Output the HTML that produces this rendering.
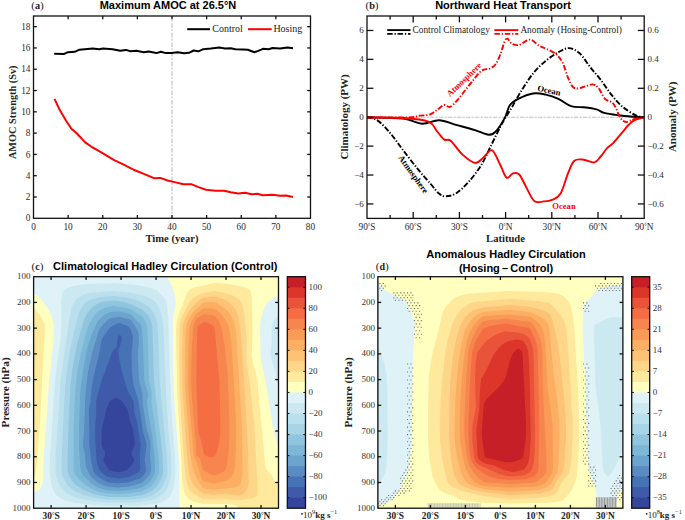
<!DOCTYPE html>
<html><head><meta charset="utf-8"><style>
html,body{margin:0;padding:0;background:#fff;width:685px;height:520px;overflow:hidden}
svg{display:block}
</style></head><body>
<svg width="685" height="520" viewBox="0 0 685 520">
<rect width="685" height="520" fill="#fff"/>
<clipPath id="clipc"><rect x="33.6" y="276.7" width="244.9" height="231.5"/></clipPath>
<g clip-path="url(#clipc)">
<rect x="33.6" y="276.7" width="244.9" height="231.5" fill="#36459c"/>
<path d="M32.1 274.7L280.1 274.7 280.1 510.2 31.6 510.2 31.6 274.7ZM115.8 397.7L112.1 399.4 109.6 401.4 106.1 409.7 101.8 429.2 101.6 444.2 102 446.7 104.4 450.7 105.2 453.2 105 455.2 103.2 459.2 104.1 462.2 109.1 469.9 112.7 471.2 118.1 472.2 123.5 471.2 127.6 469.8 133.6 462.1 134.3 460.2 134.1 458.7 131.9 455.7 131.3 453.7 132 451.2 134.5 446.2 134.8 443.7 133.2 429.7 130.3 422.2 127.6 409.7 122.1 401.2 118.8 398.7Z" fill="#3e5aa8" fill-rule="evenodd"/>
<path d="M32.1 274.7L280.1 274.7 280.1 510.2 31.6 510.2 31.6 274.7ZM119.6 335.2L118.6 335.7 117.8 337.2 116.4 347.7 113.1 350.2 111.6 353 105.9 369.7 102.1 378.7 96.5 399.2 96.1 402.2 96.3 411.2 95.1 429.2 95.5 443.7 96.7 460.7 97.4 464.7 98.9 468.7 101.4 472.2 107.6 477.1 118.1 478.4 128.8 477.2 138.1 472.5 139.6 471.3 140.2 468.7 139.7 454.2 140.8 445.2 137.3 423.2 134.3 411.7 133.6 401.2 128.3 391.7 126.2 386.7 121.4 369.2 118.9 357.7 118.5 350.7 121.1 342.2 121.8 338.2 121.1 335.8Z" fill="#4673b5" fill-rule="evenodd"/>
<path d="M32.1 274.7L280.1 274.7 280.1 510.2 31.6 510.2 31.6 274.7ZM118.5 323.2L113.1 325.4 109.6 327.8 101.6 339.6 99.2 353.7 93 379.2 91.2 391.7 90.5 401.7 89.2 407.2 88.9 411.2 89.4 444.7 91.2 460.7 93.3 470.7 95.1 473.7 98.1 476.8 104.6 480.8 108.6 482.5 118.1 483.3 127.6 482.5 130.6 481.8 140.1 478.3 144 474.7 145.4 472.2 146 470.2 144.7 459.2 146.5 445.2 146.1 442.2 142.8 431.2 139.9 410.2 137.8 398.2 134.1 386.7 132.8 380.2 131.8 367.7 131.5 354.7 132.9 338.7 132.7 335.7 130.6 329.5 129.1 327 126.9 325.7 120.6 323.2Z" fill="#5a8bc2" fill-rule="evenodd"/>
<path d="M32.1 274.7L280.1 274.7 280.1 510.2 31.6 510.2 31.6 274.7ZM116.2 317.2L111.1 318.1 108.1 319.4 104.7 322.7 100.1 328.4 98.3 332.2 91.8 353.7 87.8 373.2 85.5 392.2 84.1 430.2 83 444.7 83.4 448.7 85 454.2 85.4 462.2 86.2 466.7 88.4 472.2 91.5 477.2 97.6 482.4 102.6 484.9 108.1 486.7 118.1 487.4 129.1 486.6 140.9 483.2 145.7 479.2 149.2 475.2 150.8 471.7 151.1 468.2 150.1 454.7 150.6 446.2 150.3 441.7 146.8 429.7 142.7 403.2 142.5 393.2 139.8 383.7 139 378.7 137.8 356.2 138.9 340.7 138.5 333.2 137.6 330.7 133.6 323.7 130.6 319.8 128.6 318.9 120.1 316.9Z" fill="#6ba5cd" fill-rule="evenodd"/>
<path d="M32.1 274.7L280.1 274.7 280.1 510.2 31.6 510.2 31.6 274.7ZM112 311.7L108.1 312.8 104.1 315.1 99.3 319.2 97.1 321.9 91.7 334.2 87.7 346.2 85.8 353.7 81 384.2 80.2 392.7 79 430.7 79.2 449.7 80.1 466.7 81.1 471.7 83.6 475.7 90.9 483.2 96.3 486.7 100.6 488.4 108.6 490.4 118.1 490.8 128.1 490.3 138.1 488.5 141.6 487.5 146.8 484.2 151.1 479.7 153.9 475.2 155.1 471.2 154.7 457.7 152.3 436.7 147 403.2 147 400.7 148.3 395.7 148.3 393.7 145 383.7 144.3 379.7 142.7 337.2 141.5 326.2 140.1 323.5 137.1 321.1 132.5 315.7 130.1 314 119.6 311.6Z" fill="#7db7d8" fill-rule="evenodd"/>
<path d="M32.1 274.7L280.1 274.7 280.1 510.2 31.6 510.2 31.6 274.7ZM111 306.2L104.6 307.9 99.6 310.2 96.5 312.7 92.7 317.7 89.5 323.2 87 329.2 81.3 350.2 76.7 375.2 74.6 401.2 73.6 427.7 73.6 470.2 74.2 472.7 75.6 475.2 80.6 481 85.7 485.2 93.6 489.8 99.6 491.9 108.1 493.6 118.1 494.1 128.6 493.6 141.1 491.6 146.1 489.5 150.1 487 153 484.2 156 479.7 158.2 475.2 159.2 471.2 159.1 463.7 158.2 452.2 154.4 421.7 151.5 402.7 151.9 395.7 151.6 391.2 149 379.7 147.5 328.2 146.1 322.7 143 317.7 141.1 315.8 137.6 314.2 132.1 310.1 127.1 308.1 121.1 306.9 114.1 306Z" fill="#90c5df" fill-rule="evenodd"/>
<path d="M32.1 274.7L280.1 274.7 280.1 510.2 31.6 510.2 31.6 274.7ZM110.6 300.7L101.6 302.1 98.6 303.2 92.6 307.1 88.2 311.7 85.6 316 83.3 321.7 77.1 344 72.8 365.7 70.6 383.7 68.6 422.7 67.6 457.7 67.7 471.2 68.5 474.2 70.2 477.7 73.1 481.9 75.7 484.7 82.1 489 93.1 493.8 99.6 495.6 109.1 496.9 127.6 496.9 139.6 495.6 144.6 494.2 149.6 492.1 152.6 490.3 155.6 487.7 158.3 484.2 160.9 479.2 162.6 474.7 163.3 470.7 162.4 453.7 154.1 382.2 152.3 326.2 150.9 320.7 148.7 316.2 145.8 312.7 141.6 309.3 132.6 304.9 126.1 302.5 114.1 300.6Z" fill="#a7d4e6" fill-rule="evenodd"/>
<path d="M32.1 274.7L280.1 274.7 280.1 510.2 31.6 510.2 31.6 274.7ZM108.8 296.2L100.6 297 96.1 297.9 90.5 299.7 86.1 302.1 83.5 304.7 80.9 308.7 78.9 313.2 77.1 319.2 69.9 350.7 65.9 377.2 64.1 404.7 61.9 451.7 61.5 467.2 61.7 472.2 62.7 475.7 64.5 479.7 66.8 483.7 69.2 486.7 74.6 491 83.6 494.9 94.6 498 107.6 499.7 127.6 499.8 141.1 498.7 147.1 497.3 151.8 495.7 156 493.2 159.5 490.2 162.1 487 164.1 483.2 166.4 476.7 167.4 471.7 166.9 457.7 159.8 382.7 158.2 335.2 157.3 324.2 155.6 317.2 152.9 311.7 149 307.2 143.1 302.9 136.1 300 126.6 297.5 113.6 295.9Z" fill="#bbe0ed" fill-rule="evenodd"/>
<path d="M32.1 274.7L280.1 274.7 280.1 510.2 31.6 510.2 31.6 274.7ZM108 291.2L90.1 293.1 85.1 294.1 81.6 295.4 77.8 297.7 75.2 300.2 73.1 303.6 71.4 308.2 69.5 317.7 60.7 378.7 55.5 458.2 55.2 469.2 55.6 474 58.6 483.2 62.4 489.2 65.1 491.9 68.6 494.4 76.1 497.7 92.6 501.2 108.1 502.7 129.1 502.7 140.6 502 147.1 501.1 152.6 499.8 157.6 497.8 161.6 495.3 164.6 492.4 166.8 489.2 168.7 485.2 170.4 478.7 171.4 472.7 171.1 458.7 168.5 431.2 166.2 396.2 163.7 331.7 162.4 318.7 160.4 311.2 157.5 304.7 154.8 301.2 150.6 298.4 143.1 295.4 134.1 293.2 114.1 290.9Z" fill="#cce9f2" fill-rule="evenodd"/>
<path d="M32.1 274.7L280.1 274.7 280.1 314.3 278.1 315 276.1 317.2 273.4 321.2 272 324.7 271.5 328.2 271.9 338.7 270.5 353.7 271.3 359.2 276.2 374.2 278.6 387.9 279.1 389.7 280.1 391 280.1 510.2 31.6 510.2 31.6 274.7ZM109.1 283.2L85.1 283.9 74.3 285.7 69.2 287.2 65.6 288.9 63.4 291.2 62.1 294.2 61.2 301.7 61.5 325.2 61.1 334.2 55.2 378.2 49.9 457.2 49.6 471.7 51.2 483.7 53.7 491.2 55.5 494.2 57.5 496.2 60.3 498.2 64.1 500 73.6 502.8 92.1 505.1 108.6 506.1 139.6 505.7 154.1 504.1 159.6 502.7 164.1 500.9 167.6 498.7 170 496.2 172.1 492.4 173.6 487.7 175.4 474.2 175.2 458.2 172.5 427.7 171 404.2 168.3 318.7 166.9 304.2 165.7 300.2 163.1 296.5 157.1 290.5 154.1 288.9 146.6 286.7 135.6 284.7 114.1 283.1Z" fill="#dff2f7" fill-rule="evenodd"/>
<path d="M166.1 274.7L280.1 274.7 280.1 295.3 277.6 295.8 271 299.2 268.2 301.2 266.6 303.2 263.9 309.2 261.6 316.3 260.4 322.2 260 328.2 260.5 354.2 261 359.7 264.9 377.7 273.6 431.7 277.1 443 278.6 445.5 280.1 446.2 280.1 510.2 179.4 510.2 179.2 462.7 174.1 396.2 173 358.2 172.7 323.7 173.5 315.2 175.5 304.7 175.7 300.7 174.9 295.2 172.1 286.7 169.6 281.2 166 275.2 165.8 274.7ZM32.1 292.9L35.1 293.9 40.2 298.2 42.8 301.2 48.1 309.2 50.6 313.8 52.5 318.7 53.6 323.7 53.9 328.7 53.3 339.7 49.3 380.2 43.6 458.2 42.6 483.2 41.6 486.7 39.1 489.7 36.1 491.2 31.6 492 31.6 292.9Z" fill="#ffffbf" fill-rule="evenodd"/>
<path d="M213.1 283.2L216.1 282.9 226.6 283.8 241.1 286.3 245.7 287.7 248.6 289.1 250.1 290.6 251 292.7 251.8 297.2 252.1 304.2 252.4 337.7 251.8 356.2 252.8 362.2 256.5 375.7 257.5 381.7 265.1 464 266.6 470 271.6 475.1 275.1 482.1 277.1 483.6 280.1 484.2 280.1 510.2 238.3 510.2 238.4 508.2 237.6 506.7 235.6 505.4 232.1 504.4 225.6 503.9 213.6 504.2 202.1 503.7 193.1 501.2 189.1 499.2 186.1 496.1 184 491.2 182.3 480.7 180.8 449.2 177.3 395.7 176.2 344.2 176.1 327.7 176.5 322.7 178.8 313.7 182.9 304.2 185.9 295.2 188.6 290.5 190.6 289 195.1 287.2ZM32.1 307.4L33.6 307.8 35.6 309.5 41.4 317.2 44.1 323.2 44.9 329.2 39.8 425.2 36.9 463.2 36 471.2 35 475.7 33.6 478.3 31.6 479 31.6 307.4Z" fill="#fee99d" fill-rule="evenodd"/>
<path d="M214.1 291.1L218.1 291.5 228.1 293.9 233.2 295.7 237.6 298.2 239.9 300.2 241.6 302.7 244 311.7 246.5 335.7 246.6 354.7 247.1 364.5 249.5 380.2 254.5 425.7 256.5 468.7 257.6 481.7 257.4 493.2 257 495.7 254.6 497.5 249.6 498.8 240.1 499.9 225.1 499 213.1 499.5 202.6 498.7 194.1 494.3 191.1 491.7 188 486.7 186.1 479.7 184.3 463.2 179.6 392.7 179.2 360.7 179.6 324.7 180.7 319.7 182.8 314.7 189.6 302.5 192.2 299.2 196.1 296.2 201.1 293.8ZM32 321.2L33.6 322.3 34.7 325.7 34.9 338.2 34.1 392.5 33.1 402.7 32.6 404.5 31.6 405.5 31.6 321.2Z" fill="#fed689" fill-rule="evenodd"/>
<path d="M212.6 296.7L216.6 296.9 223.6 299.2 228.3 301.7 231.8 304.7 235 308.7 237 312.7 238.5 317.7 239.8 325.2 241.8 346.7 245.9 409.2 248.1 452.2 248.6 477.7 248.4 484.7 247.1 489.2 244.1 493.1 240.1 495.3 224.6 493.9 213.1 494.8 202.6 493.5 195.1 486.9 192.6 483.7 190.1 477 188.3 467.7 186.4 447.7 182.4 388.7 182.2 352.2 182.7 325.7 184.2 320.2 186.8 314.7 190.9 308.7 196.1 303.1 199.9 299.7 203.1 297.8Z" fill="#fdc275" fill-rule="evenodd"/>
<path d="M206.6 302.2L210.6 301.9 215.6 302.5 218.2 303.7 222.6 306.7 226.7 310.2 229.8 313.7 232.4 318.2 234.3 323.2 235.6 329.7 236.5 340.2 241.7 422.2 242.5 470.2 242 477.2 240.6 483.7 239.1 485.8 235.1 487.5 224.1 488.4 214.6 489.7 204.6 488.4 202.1 487.3 196.5 477.7 193.4 470.2 191.6 462 190 449.7 185.5 393.7 185.1 380.7 185.2 352.7 185.7 330.2 186.2 325.2 189.1 318 194.6 310.4 203.1 303Z" fill="#fcae62" fill-rule="evenodd"/>
<path d="M205.1 308.2L212.6 308.6 215.1 309.1 217.1 310.3 220.6 313.7 224.7 318.7 227.3 323.2 228.9 327.2 230.2 334.7 231.9 351.2 235.8 415.2 236.3 429.7 236.1 447.7 235 465.7 233.8 472.7 231.4 477.2 227.6 480.2 214.1 483.7 205.1 481.6 202.6 480.2 201.2 477.2 196.7 462.2 193.8 456.2 188.5 395.2 188 380.7 188.2 358.2 189.6 326.7 191.7 320.7 195.6 314.5 202.6 309.1Z" fill="#fa9a57" fill-rule="evenodd"/>
<path d="M204.6 314.2L210.6 314.8 215.1 316.2 217.9 319.7 220.6 325.2 222.4 331.7 225.2 348.7 227.5 374.7 229 408.2 229.5 431.2 229 446.2 227.2 463.2 226.1 468.3 224.7 470.7 219.1 473.7 214.1 475.4 210.8 474.2 203.6 470.2 202.5 468.2 200.1 458.8 196 454.7 196 442.7 194.6 431.2 191.8 395.2 191.2 381.7 191.3 366.7 191.9 348.7 193.2 327.2 194.5 322.7 196.6 318.8 202.1 315.2Z" fill="#f7854e" fill-rule="evenodd"/>
<path d="M205.1 321.7L207.1 322.2 212.1 324.9 213.6 326.3 214.6 328.7 219.3 379.7 220.3 417.7 220.1 436.7 218.7 444.7 216.1 454.2 214.1 456.5 211.1 457.5 209.1 457.2 206 455.7 204.6 454.7 203.6 453.2 201.3 441.7 198.6 432.9 198.1 425.9 196.3 380.7 197.3 329.2 197.6 327.1 198.6 325.6 202.7 322.7Z" fill="#f46d43" fill-rule="evenodd"/>
</g>
<clipPath id="clipd"><rect x="377.9" y="276.7" width="245.0" height="231.5"/></clipPath>
<g clip-path="url(#clipd)">
<rect x="377.9" y="276.7" width="245.0" height="231.5" fill="#36459c"/>
<path d="M376.4 274.7L624.9 274.7 624.9 510.2 375.9 510.2 375.9 274.7Z" fill="#3e5aa8" fill-rule="evenodd"/>
<path d="M376.4 274.7L624.9 274.7 624.9 510.2 375.9 510.2 375.9 274.7Z" fill="#4673b5" fill-rule="evenodd"/>
<path d="M376.4 274.7L624.9 274.7 624.9 510.2 375.9 510.2 375.9 274.7Z" fill="#5a8bc2" fill-rule="evenodd"/>
<path d="M376.4 274.7L624.9 274.7 624.9 510.2 375.9 510.2 375.9 274.7Z" fill="#6ba5cd" fill-rule="evenodd"/>
<path d="M376.4 274.7L624.9 274.7 624.9 510.2 375.9 510.2 375.9 274.7Z" fill="#7db7d8" fill-rule="evenodd"/>
<path d="M376.4 274.7L624.9 274.7 624.9 510.2 375.9 510.2 375.9 274.7Z" fill="#90c5df" fill-rule="evenodd"/>
<path d="M376.4 274.7L624.9 274.7 624.9 510.2 375.9 510.2 375.9 274.7Z" fill="#a7d4e6" fill-rule="evenodd"/>
<path d="M376.4 274.7L624.9 274.7 624.9 510.2 375.9 510.2 375.9 274.7Z" fill="#bbe0ed" fill-rule="evenodd"/>
<path d="M376.4 274.7L624.9 274.7 624.9 510.2 375.9 510.2 375.9 274.7Z" fill="#cce9f2" fill-rule="evenodd"/>
<path d="M376.4 274.7L624.9 274.7 624.9 317.6 612.9 317.1 609.4 317.4 595.8 324.2 594.2 326.2 593.8 329.2 595.4 384.2 600.7 427.2 603 469.7 603.9 472.2 606.2 475.2 607.9 476.5 608.9 476.1 613.4 470.2 621.9 451.9 623.4 450.3 624.9 450.1 624.9 510.2 375.9 510.2 375.9 485 377.4 484.8 378.4 484.1 382.1 478.7 384.8 473.7 386 469.2 387 457.2 387.8 431.7 387.3 389.7 386.3 373.2 384.2 363.2 380.6 353.2 378.4 349.3 377.4 348.5 375.9 348.3 375.9 274.7Z" fill="#dff2f7" fill-rule="evenodd"/>
<path d="M376.4 274.7L624.9 274.7 624.9 283.5 621.9 283.7 610.4 286 596.9 289.4 595.4 290.9 591.9 296.7 585.9 301.6 584.5 305.2 583.4 311.7 582.5 328.2 585.1 378.7 587 445.7 588.6 470.7 593.9 482.2 596.2 493.2 596.8 503.2 597.4 504.8 600.9 505.9 608.9 506.7 612.4 506.2 615 505.2 616.3 503.2 617.1 495.2 618.1 492.2 621.9 487.5 623.4 486.6 624.9 486.4 624.9 510.2 479.7 510.2 462.9 509.2 458.9 507.6 455.9 506.9 431.4 506.7 426.4 507.7 425 508.7 423.9 510.2 375.9 510.2 375.9 506.4 378.4 506.1 381.4 504.4 388.4 502 391.4 500.1 393.9 497.7 399.5 490.2 403 481.7 407 474.7 408.7 470.2 410.1 459.2 411.6 438.2 412.6 368.7 413.4 349.7 415 328.7 414.7 324.2 413.8 319.7 407.2 302.2 403.1 299.2 389.4 292.7 384.5 289.7 379.3 282.2 377.9 281.2 375.9 280.9 375.9 274.7Z" fill="#ffffbf" fill-rule="evenodd"/>
<path d="M504.9 291.2L510.9 290.9 547.4 292.2 558.9 293.7 563.4 296.2 567.7 300.2 569.6 303.2 571.4 308.7 573.2 317.7 574.4 329.7 578.3 394.7 579.2 431.2 578.2 461.2 576.7 477.2 573.2 487.2 570.6 491.7 564.6 498.7 562.4 500.4 559.9 501.4 553.9 502.2 543.4 502.8 509.9 503.6 480.4 502.5 466.9 501 459.4 499 453.4 495.7 444.9 493 440.9 490.9 437.9 487.4 433.4 478.6 432.2 475.2 429.5 459.7 427.9 438.2 428.1 403.7 428.9 378.2 430.2 366.7 433 350.7 438.9 329.7 441.3 317.2 442.9 311.7 445.9 306.3 451.9 299.9 454.9 297.7 458.9 295.9 464.4 294.6 471.9 293.4Z" fill="#fee99d" fill-rule="evenodd"/>
<path d="M504.9 299.2L510.4 298.8 519.4 299.5 539.9 301.3 548.4 302.7 552.8 305.7 559.3 313.2 563.3 319.7 565.7 326.2 567.7 343.7 572.4 418.2 572.6 437.2 571.2 461.2 569.8 470.7 567.7 475.7 561.4 482.4 558.5 489.7 556.5 492.7 553.4 495.1 549.4 496.3 539.4 498 509.9 499.2 494.4 497.6 479.4 495.3 461.9 491 452.4 486.9 449.9 485 448.1 482.7 445.6 475.7 442.1 458.7 440.1 440.2 439.7 426.7 440.5 401.7 442.2 378.2 445.3 352.7 448 338.7 452.1 324.7 455 317.7 459.1 311.7 463.6 307.2 469.9 303.4 472.4 302.4 475.4 302Z" fill="#fed689" fill-rule="evenodd"/>
<path d="M507.4 305.2L510.9 305.1 530.4 307 539.4 309.2 547.9 312.3 550.4 315.1 552.4 319.7 557.6 341.2 560.1 359.2 564.4 401.7 565.9 421.2 566 438.7 564.3 464.2 563.5 469.7 562.6 472.2 557.3 480.2 552.9 488.4 551.4 489.7 548.4 491.2 540.4 493.4 509.4 495.2 483.4 492 474.9 490.3 468.9 488.5 461.1 485.2 457.4 481.7 454.5 475.2 451.6 463.2 449.8 447.2 449 433.2 449.5 402.7 450.2 383.7 451.6 367.7 454 350.2 456.7 337.2 459.7 327.2 462.1 321.7 464.7 317.7 469.1 313.2 473.4 310.3 482.9 307.4Z" fill="#fdc275" fill-rule="evenodd"/>
<path d="M503.4 310.2L510.4 310.1 529.4 311.9 531.4 312.4 538.7 315.7 545.4 320.2 547.8 323.2 549.2 327.2 553.5 373.2 557.3 400.7 559.1 420.7 559.5 435.7 558.5 464.2 557.6 471.7 551 483.7 546.4 487.6 539.4 489.7 534.9 490.3 509.9 491.5 484.9 489.2 474.4 486.6 467.9 483.2 463.8 478.7 461.4 473.2 457.5 459.2 455.3 445.2 454.5 434.2 455.3 398.2 456.8 378.2 458.6 361.7 461.2 345.7 464.1 333.2 466.6 326.7 469.4 322.2 473.4 317.7 477.9 314.4 483.4 312Z" fill="#fcae62" fill-rule="evenodd"/>
<path d="M500.4 314.7L509.4 314.5 530.4 316.8 536.1 320.7 539.7 324.2 542.3 328.7 544.1 334.7 545.4 345.7 547.3 384.2 552.7 425.7 552.9 469.7 551.3 474.7 545.9 482.4 541.9 484.7 535.9 486.7 509.4 487.8 485.4 486.3 479.9 484.7 474.1 481.7 469.4 476.2 465.8 469.2 463.1 459.2 459.7 437.2 459.7 417.7 460.6 395.7 462.2 374.2 464.8 351.2 466.8 340.7 469 334.2 473.1 326.2 476 322.2 479.9 318.4 482.4 316.8 483.9 316.3Z" fill="#fa9a57" fill-rule="evenodd"/>
<path d="M503.4 318.7L506.9 318.7 521.9 321 528.9 321.4 530.4 322 533.9 325.7 536.9 330.9 539.7 337.7 541.5 344.2 542.3 351.7 542.6 384.7 546.1 451.2 546.6 469.7 545.6 473.2 543.4 476.2 538.6 480.2 534.4 482.5 509.9 484.1 484.9 482.2 478.4 477.9 473.9 472.8 469.4 465.8 467.3 458.7 464.5 437.7 464.2 422.7 466.2 377.2 468 354.7 469.4 346.2 471.6 339.7 475.4 331.6 478.9 325.7 482.4 321.7 484.4 321Z" fill="#f7854e" fill-rule="evenodd"/>
<path d="M502.9 323.7L506.4 323.6 529.4 328.3 531.4 331.2 534.7 338.2 536.5 343.7 537.6 349.2 539.3 425.2 538.3 469.7 537 473.2 534 476.2 530.4 477.8 524.4 479.2 508.9 480.1 497.9 478.8 489.4 476.5 485.4 474.5 478.4 469.7 475.9 467.4 471.9 462.2 470.2 457.2 468.5 435.7 468.6 416.2 471 366.2 472 354.7 472.9 349.2 475.9 340.6 483.4 328.2 489.7 326.2Z" fill="#f46d43" fill-rule="evenodd"/>
<path d="M504.4 331.2L519.9 333 523.4 334 526.9 336.1 529.4 338.7 530.9 342 532.7 347.7 533.5 353.2 535 429.7 534.6 451.2 533.9 462 531.8 469.2 530.6 471.2 528.4 473.1 523.9 475.2 513.4 476.5 507.4 475.9 500.4 474.4 479.9 465.2 477.5 463.7 475.5 461.2 474.2 457.7 472.5 441.7 472.4 426.2 475.8 407.2 475 376.2 475.9 362.2 477.1 353.7 477.9 351.8 483.4 344.2 487.9 339.7 494.7 335.2Z" fill="#e8533a" fill-rule="evenodd"/>
<path d="M516.4 339.6L519.9 339.9 522.4 340.7 523.7 341.7 526.6 346.2 528.3 352.2 529.1 364.2 530 389.7 530.7 438.2 529.4 457.2 528.4 461.7 526.5 466.2 524.9 468.6 523.4 469.8 512.9 472.3 503.4 469.8 494.4 465.8 483.9 462.9 478.9 459.3 477.8 457.2 477.4 453.7 476.4 430.2 479.2 410.2 480.3 385.2 481.4 378.3 485.5 371.7 493.6 354.7 498.3 348.2 502 344.7 505.7 342.2 510.3 340.7Z" fill="#dc352a" fill-rule="evenodd"/>
<path d="M516.9 349.2L518.4 348.7 520.1 349.7 521.9 351.7 522.5 353.7 526.2 427.7 526 436.7 523.4 456.1 522.8 457.7 520.6 459.2 513.4 462.1 505.4 462.3 486.9 457.7 485.4 457.1 484.7 456.2 482 438.2 481.7 432.2 483.8 404.7 484.4 402 486.3 399.2 499.2 386.7 504 380.7 506.1 375.7 509.4 362.7 511.6 356.2 513.4 352.7Z" fill="#c61f27" fill-rule="evenodd"/>
</g>
<line x1="172" y1="16" x2="172" y2="218.3" stroke="#c2c2c2" stroke-width="1.2" stroke-dasharray="4.8 1.2 1.9 1.7" stroke-dashoffset="2.4"/>
<path d="M54.2,53.7 L64.2,53.9 L68,52.2 L74.7,51.8 L79.4,49.7 L92.7,48.6 L99.3,49.2 L103.1,48.6 L112.6,49.2 L120.2,50.7 L125.9,49.9 L130.6,51.3 L136.3,50.7 L143.9,52.2 L148.7,51.6 L156.3,53.1 L161,51.8 L165.8,53.1 L171.4,53.1 L177.6,52.2 L184.2,53.3 L189,52.8 L193.7,50.5 L198.5,51.3 L203.2,49.2 L210.8,48.6 L219.3,47.6 L225,48.4 L230.7,48.2 L235.5,49.2 L243,49.5 L247.8,49.7 L254.4,52.2 L258.2,50.9 L263,48.8 L268.7,49.2 L272.5,48 L280,48.4 L287.6,47.6 L293,48.2" fill="none" stroke="#000" stroke-width="2.0" stroke-linejoin="round" stroke-linecap="butt"/>
<path d="M54.5,98.9 L59.8,110.1 L66.1,120.7 L71.4,128.7 L76.7,133.3 L85.2,142.4 L92.6,147.5 L97.9,150.3 L104.2,154.1 L113.7,159.8 L123.2,164.4 L134.9,170.3 L144.4,174.1 L153.9,178.2 L160.2,177.9 L167.6,180.5 L175.7,182.4 L183.3,184.3 L191.8,184.3 L198.5,187.1 L206.1,189.8 L215.5,190.7 L224.1,190.7 L230.7,192.3 L238.3,193.6 L245,192.8 L251.6,194.2 L257.3,193.8 L263,195.3 L272.5,194.7 L280.1,195.7 L285.8,195.5 L293,197" fill="none" stroke="#ff0000" stroke-width="2.0" stroke-linejoin="round" stroke-linecap="butt"/>
<line x1="187.2" y1="29.2" x2="210" y2="29.2" stroke="#000" stroke-width="2"/>
<text x="212.3" y="32.3" font-family='"Liberation Serif", serif' font-size="10" font-weight="normal" text-anchor="start" fill="#222">Control</text>
<line x1="248" y1="29.2" x2="271.7" y2="29.2" stroke="#ff0000" stroke-width="2"/>
<text x="273.4" y="32.3" font-family='"Liberation Serif", serif' font-size="10" font-weight="normal" text-anchor="start" fill="#222">Hosing</text>
<rect x="33.5" y="16" width="277" height="202.3" fill="none" stroke="#121212" stroke-width="1.3"/>
<text x="33.5" y="230" font-family='"Liberation Serif", serif' font-size="9.3" font-weight="normal" text-anchor="middle" fill="#2a2a2a">0</text>
<line x1="68.12" y1="218.3" x2="68.12" y2="215" stroke="#121212" stroke-width="1.3"/>
<line x1="68.12" y1="16" x2="68.12" y2="19.3" stroke="#121212" stroke-width="1.3"/>
<text x="68.12" y="230" font-family='"Liberation Serif", serif' font-size="9.3" font-weight="normal" text-anchor="middle" fill="#2a2a2a">10</text>
<line x1="102.75" y1="218.3" x2="102.75" y2="215" stroke="#121212" stroke-width="1.3"/>
<line x1="102.75" y1="16" x2="102.75" y2="19.3" stroke="#121212" stroke-width="1.3"/>
<text x="102.75" y="230" font-family='"Liberation Serif", serif' font-size="9.3" font-weight="normal" text-anchor="middle" fill="#2a2a2a">20</text>
<line x1="137.38" y1="218.3" x2="137.38" y2="215" stroke="#121212" stroke-width="1.3"/>
<line x1="137.38" y1="16" x2="137.38" y2="19.3" stroke="#121212" stroke-width="1.3"/>
<text x="137.38" y="230" font-family='"Liberation Serif", serif' font-size="9.3" font-weight="normal" text-anchor="middle" fill="#2a2a2a">30</text>
<line x1="172" y1="218.3" x2="172" y2="215" stroke="#121212" stroke-width="1.3"/>
<line x1="172" y1="16" x2="172" y2="19.3" stroke="#121212" stroke-width="1.3"/>
<text x="172" y="230" font-family='"Liberation Serif", serif' font-size="9.3" font-weight="normal" text-anchor="middle" fill="#2a2a2a">40</text>
<line x1="206.62" y1="218.3" x2="206.62" y2="215" stroke="#121212" stroke-width="1.3"/>
<line x1="206.62" y1="16" x2="206.62" y2="19.3" stroke="#121212" stroke-width="1.3"/>
<text x="206.62" y="230" font-family='"Liberation Serif", serif' font-size="9.3" font-weight="normal" text-anchor="middle" fill="#2a2a2a">50</text>
<line x1="241.25" y1="218.3" x2="241.25" y2="215" stroke="#121212" stroke-width="1.3"/>
<line x1="241.25" y1="16" x2="241.25" y2="19.3" stroke="#121212" stroke-width="1.3"/>
<text x="241.25" y="230" font-family='"Liberation Serif", serif' font-size="9.3" font-weight="normal" text-anchor="middle" fill="#2a2a2a">60</text>
<line x1="275.88" y1="218.3" x2="275.88" y2="215" stroke="#121212" stroke-width="1.3"/>
<line x1="275.88" y1="16" x2="275.88" y2="19.3" stroke="#121212" stroke-width="1.3"/>
<text x="275.88" y="230" font-family='"Liberation Serif", serif' font-size="9.3" font-weight="normal" text-anchor="middle" fill="#2a2a2a">70</text>
<text x="310.5" y="230" font-family='"Liberation Serif", serif' font-size="9.3" font-weight="normal" text-anchor="middle" fill="#2a2a2a">80</text>
<text x="30.5" y="221.4" font-family='"Liberation Serif", serif' font-size="9.3" font-weight="normal" text-anchor="end" fill="#2a2a2a">0</text>
<line x1="33.5" y1="197.01" x2="36.8" y2="197.01" stroke="#121212" stroke-width="1.3"/>
<line x1="310.5" y1="197.01" x2="307.2" y2="197.01" stroke="#121212" stroke-width="1.3"/>
<text x="30.5" y="200.11" font-family='"Liberation Serif", serif' font-size="9.3" font-weight="normal" text-anchor="end" fill="#2a2a2a">2</text>
<line x1="33.5" y1="175.71" x2="36.8" y2="175.71" stroke="#121212" stroke-width="1.3"/>
<line x1="310.5" y1="175.71" x2="307.2" y2="175.71" stroke="#121212" stroke-width="1.3"/>
<text x="30.5" y="178.81" font-family='"Liberation Serif", serif' font-size="9.3" font-weight="normal" text-anchor="end" fill="#2a2a2a">4</text>
<line x1="33.5" y1="154.42" x2="36.8" y2="154.42" stroke="#121212" stroke-width="1.3"/>
<line x1="310.5" y1="154.42" x2="307.2" y2="154.42" stroke="#121212" stroke-width="1.3"/>
<text x="30.5" y="157.52" font-family='"Liberation Serif", serif' font-size="9.3" font-weight="normal" text-anchor="end" fill="#2a2a2a">6</text>
<line x1="33.5" y1="133.12" x2="36.8" y2="133.12" stroke="#121212" stroke-width="1.3"/>
<line x1="310.5" y1="133.12" x2="307.2" y2="133.12" stroke="#121212" stroke-width="1.3"/>
<text x="30.5" y="136.22" font-family='"Liberation Serif", serif' font-size="9.3" font-weight="normal" text-anchor="end" fill="#2a2a2a">8</text>
<line x1="33.5" y1="111.83" x2="36.8" y2="111.83" stroke="#121212" stroke-width="1.3"/>
<line x1="310.5" y1="111.83" x2="307.2" y2="111.83" stroke="#121212" stroke-width="1.3"/>
<text x="30.5" y="114.93" font-family='"Liberation Serif", serif' font-size="9.3" font-weight="normal" text-anchor="end" fill="#2a2a2a">10</text>
<line x1="33.5" y1="90.53" x2="36.8" y2="90.53" stroke="#121212" stroke-width="1.3"/>
<line x1="310.5" y1="90.53" x2="307.2" y2="90.53" stroke="#121212" stroke-width="1.3"/>
<text x="30.5" y="93.63" font-family='"Liberation Serif", serif' font-size="9.3" font-weight="normal" text-anchor="end" fill="#2a2a2a">12</text>
<line x1="33.5" y1="69.24" x2="36.8" y2="69.24" stroke="#121212" stroke-width="1.3"/>
<line x1="310.5" y1="69.24" x2="307.2" y2="69.24" stroke="#121212" stroke-width="1.3"/>
<text x="30.5" y="72.34" font-family='"Liberation Serif", serif' font-size="9.3" font-weight="normal" text-anchor="end" fill="#2a2a2a">14</text>
<line x1="33.5" y1="47.94" x2="36.8" y2="47.94" stroke="#121212" stroke-width="1.3"/>
<line x1="310.5" y1="47.94" x2="307.2" y2="47.94" stroke="#121212" stroke-width="1.3"/>
<text x="30.5" y="51.04" font-family='"Liberation Serif", serif' font-size="9.3" font-weight="normal" text-anchor="end" fill="#2a2a2a">16</text>
<line x1="33.5" y1="26.65" x2="36.8" y2="26.65" stroke="#121212" stroke-width="1.3"/>
<line x1="310.5" y1="26.65" x2="307.2" y2="26.65" stroke="#121212" stroke-width="1.3"/>
<text x="30.5" y="29.75" font-family='"Liberation Serif", serif' font-size="9.3" font-weight="normal" text-anchor="end" fill="#2a2a2a">18</text>
<text x="172" y="242.2" font-family='"Liberation Serif", serif' font-size="10.6" font-weight="bold" text-anchor="middle" fill="#222">Time (year)</text>
<text x="15.8" y="112.3" font-family='"Liberation Serif", serif' font-size="10.3" font-weight="bold" text-anchor="middle" fill="#222" transform="rotate(-90 15.8 112.3)">AMOC Strength (Sv)</text>
<text x="168" y="9" font-family='"Liberation Sans", sans-serif' font-size="11" font-weight="bold" text-anchor="middle" fill="#000">Maximum AMOC at 26.5°N</text>
<text x="37.5" y="9.3" font-family='"Liberation Serif", serif' font-size="10.3" font-weight="bold" text-anchor="middle" fill="#222"><tspan font-weight="normal" font-size="11.2">(</tspan>a<tspan font-weight="normal" font-size="11.2">)</tspan></text>
<line x1="367" y1="117.2" x2="644.2" y2="117.2" stroke="#c0c0c0" stroke-width="1.15" stroke-dasharray="4.4 1.2 2.2 1.2"/>
<path d="M367,117.4 C373.02,117.58 393.92,117.45 403.1,118.5 C412.28,119.55 416.12,123.42 422.1,123.7 C428.08,123.98 433.37,120.02 439,120.2 C444.63,120.38 449.9,123.15 455.9,124.8 C461.9,126.45 469.53,128.45 475,130.1 C480.47,131.75 485.18,134.53 488.7,134.7 C492.22,134.87 493.38,133.98 496.1,131.1 C498.82,128.22 502.72,121.72 505,117.4 C507.28,113.08 507.58,108.3 509.8,105.2 C512.02,102.1 514.42,100.75 518.3,98.8 C522.18,96.85 528.52,94.2 533.1,93.5 C537.68,92.8 541.58,93.72 545.8,94.6 C550.02,95.48 554.18,96.87 558.4,98.8 C562.62,100.73 566.87,104.78 571.1,106.2 C575.33,107.62 579.57,106.77 583.8,107.3 C588.03,107.83 593.1,108.47 596.5,109.4 C599.9,110.33 600.6,111.93 604.2,112.9 C607.8,113.87 613.28,114.57 618.1,115.2 C622.92,115.83 628.78,116.33 633.1,116.7 C637.42,117.07 642.18,117.28 644,117.4" fill="none" stroke="#000" stroke-width="1.9" stroke-linejoin="round"/>
<path d="M367,117.4 C368.78,117.93 373.8,117.95 377.7,120.6 C381.6,123.25 386.17,128.37 390.4,133.3 C394.63,138.23 398.52,144.22 403.1,150.2 C407.68,156.18 413.32,163.57 417.9,169.2 C422.48,174.83 427.08,179.95 430.6,184 C434.12,188.05 436.53,191.45 439,193.5 C441.47,195.55 442.58,196.3 445.4,196.3 C448.22,196.3 452.03,195.9 455.9,193.5 C459.77,191.1 464.37,186.65 468.6,181.9 C472.83,177.15 477.42,171.35 481.3,165 C485.18,158.65 488.73,150.15 491.9,143.8 C495.07,137.45 498.12,131.12 500.3,126.9 C502.48,122.68 503.07,121.77 505,118.5 C506.93,115.23 509.33,111.63 511.9,107.3 C514.47,102.97 516.87,98.15 520.4,92.5 C523.93,86.85 528.87,78.68 533.1,73.4 C537.33,68.12 541.58,64.32 545.8,60.8 C550.02,57.28 554.53,54.42 558.4,52.3 C562.27,50.18 565.47,47.93 569,48.1 C572.53,48.27 576.07,50.13 579.6,53.3 C583.13,56.47 586.68,62.68 590.2,67.1 C593.72,71.52 597.18,75.22 600.7,79.8 C604.22,84.38 607.77,90.2 611.3,94.6 C614.83,99 617.88,102.77 621.9,106.2 C625.92,109.63 631.72,113.33 635.4,115.2 C639.08,117.07 642.57,117.03 644,117.4" fill="none" stroke="#000" stroke-width="1.9" stroke-linejoin="round" stroke-dasharray="5.5 1.8 1.3 1.8"/>
<path d="M367,117.4 C373.02,117.5 392.87,117.3 403.1,118 C413.33,118.7 422.77,119.42 428.4,121.6 C434.03,123.78 434.25,128.1 436.9,131.1 C439.55,134.1 442.02,138 444.3,139.6 C446.58,141.2 447.6,138.23 450.6,140.7 C453.6,143.17 458.23,150.7 462.3,154.4 C466.37,158.1 471.48,162.37 475,162.9 C478.52,163.43 480.58,159.72 483.4,157.6 C486.22,155.48 489.08,148.97 491.9,150.2 C494.72,151.43 497.85,160.42 500.3,165 C502.75,169.58 504.48,176.3 506.6,177.7 C508.72,179.1 510.88,173.93 513,173.4 C515.12,172.87 517.37,172.73 519.3,174.5 C521.23,176.27 522.13,179.6 524.6,184 C527.07,188.4 530.93,198 534.1,200.9 C537.27,203.8 540.6,201.57 543.6,201.4 C546.6,201.23 549.27,201.22 552.1,199.9 C554.93,198.58 557.95,197.92 560.6,193.5 C563.25,189.08 565.72,178.85 568,173.4 C570.28,167.95 571.67,163.08 574.3,160.8 C576.93,158.52 580.45,159.43 583.8,159.7 C587.15,159.97 591.58,162.93 594.4,162.4 C597.22,161.87 598.58,158.88 600.7,156.5 C602.82,154.12 604.98,150.38 607.1,148.1 C609.22,145.82 610.8,145.5 613.4,142.8 C616,140.1 620.18,134.87 622.7,131.9 C625.22,128.93 626.58,126.92 628.5,125 C630.42,123.08 631.62,121.67 634.2,120.4 C636.78,119.13 642.37,117.9 644,117.4" fill="none" stroke="#ff0000" stroke-width="1.9" stroke-linejoin="round"/>
<path d="M367,117.4 C373.72,117.4 398.47,117.7 407.3,117.4 C416.13,117.1 416.28,116.07 420,115.6 C423.72,115.13 426.72,115.57 429.6,114.6 C432.48,113.63 434.9,111.4 437.3,109.8 C439.7,108.2 441.92,105.48 444,105 C446.08,104.52 447.72,107.53 449.8,106.9 C451.88,106.27 454.1,103.77 456.5,101.2 C458.9,98.63 461.63,94.72 464.2,91.5 C466.77,88.28 469.33,85.1 471.9,81.9 C474.47,78.7 477.52,74.38 479.6,72.3 C481.68,70.22 482.63,70.03 484.4,69.4 C486.17,68.77 488.27,69.45 490.2,68.5 C492.13,67.55 494.23,66.27 496,63.7 C497.77,61.13 499.37,56.8 500.8,53.1 C502.23,49.4 503.48,43.9 504.6,41.5 C505.72,39.1 506.28,38.32 507.5,38.7 C508.72,39.08 509.93,42.77 511.9,43.8 C513.87,44.83 516.3,45.6 519.3,44.9 C522.3,44.2 526.55,39.43 529.9,39.6 C533.25,39.77 536.58,44.32 539.4,45.9 C542.22,47.48 543.98,47.68 546.8,49.1 C549.62,50.52 553.65,52.1 556.3,54.4 C558.95,56.7 560.75,59.02 562.7,62.9 C564.65,66.78 566.25,73.65 568,77.7 C569.75,81.75 571.27,85.45 573.2,87.2 C575.13,88.95 576.42,88.67 579.6,88.2 C582.78,87.73 589.13,84.4 592.3,84.4 C595.47,84.4 596.48,85.8 598.6,88.2 C600.72,90.6 602.72,96.42 605,98.8 C607.28,101.18 610.42,100.83 612.3,102.5 C614.18,104.17 615.15,106.58 616.3,108.8 C617.45,111.02 618.13,113.87 619.2,115.8 C620.27,117.73 621.53,119.35 622.7,120.4 C623.87,121.45 625.05,122 626.2,122.1 C627.35,122.2 628.07,121.57 629.6,121 C631.13,120.43 633,119.3 635.4,118.7 C637.8,118.1 642.57,117.62 644,117.4" fill="none" stroke="#ff0000" stroke-width="1.9" stroke-linejoin="round" stroke-dasharray="5.5 1.8 1.3 1.8"/>
<text x="411" y="176" font-family='"Liberation Serif", serif' font-size="8.6" font-weight="bold" text-anchor="middle" fill="#000" transform="rotate(54.5 411 176)">Atmosphere</text>
<text x="466" y="81.5" font-family='"Liberation Serif", serif' font-size="8.6" font-weight="bold" text-anchor="middle" fill="#ff0000" transform="rotate(-44 466 81.5)">Atmosphere</text>
<text x="548.5" y="93.3" font-family='"Liberation Serif", serif' font-size="8.6" font-weight="bold" text-anchor="middle" fill="#000" transform="rotate(12 548.5 93.3)">Ocean</text>
<text x="564" y="209" font-family='"Liberation Serif", serif' font-size="8.6" font-weight="bold" text-anchor="middle" fill="#ff0000">Ocean</text>
<line x1="387.2" y1="30.1" x2="410.5" y2="30.1" stroke="#000" stroke-width="1.9"/>
<line x1="387.2" y1="33.9" x2="410.5" y2="33.9" stroke="#000" stroke-width="1.9" stroke-dasharray="5.5 1.8 1.3 1.8"/>
<text x="412.6" y="33.2" font-family='"Liberation Serif", serif' font-size="9.3" font-weight="normal" text-anchor="start" fill="#222">Control Climatology</text>
<line x1="494.4" y1="30.1" x2="518.3" y2="30.1" stroke="#ff0000" stroke-width="1.9"/>
<line x1="494.4" y1="33.9" x2="518.3" y2="33.9" stroke="#ff0000" stroke-width="1.9" stroke-dasharray="5.5 1.8 1.3 1.8"/>
<text x="520.4" y="33.2" font-family='"Liberation Serif", serif' font-size="9.3" font-weight="normal" text-anchor="start" fill="#222">Anomaly (Hosing-Control)</text>
<rect x="367" y="16" width="277.2" height="202.4" fill="none" stroke="#121212" stroke-width="1.3"/>
<text x="367" y="230" font-family='"Liberation Serif", serif' font-size="9.3" font-weight="normal" text-anchor="middle" fill="#2a2a2a">90<tspan font-size="6.3" dy="-2.3">°</tspan><tspan dy="2.3">S</tspan></text>
<line x1="390.1" y1="218.4" x2="390.1" y2="215" stroke="#121212" stroke-width="1.3"/>
<line x1="390.1" y1="16" x2="390.1" y2="19.4" stroke="#121212" stroke-width="1.3"/>
<line x1="413.2" y1="218.4" x2="413.2" y2="212" stroke="#121212" stroke-width="1.3"/>
<line x1="413.2" y1="16" x2="413.2" y2="22.4" stroke="#121212" stroke-width="1.3"/>
<text x="413.2" y="230" font-family='"Liberation Serif", serif' font-size="9.3" font-weight="normal" text-anchor="middle" fill="#2a2a2a">60<tspan font-size="6.3" dy="-2.3">°</tspan><tspan dy="2.3">S</tspan></text>
<line x1="436.3" y1="218.4" x2="436.3" y2="215" stroke="#121212" stroke-width="1.3"/>
<line x1="436.3" y1="16" x2="436.3" y2="19.4" stroke="#121212" stroke-width="1.3"/>
<line x1="459.4" y1="218.4" x2="459.4" y2="212" stroke="#121212" stroke-width="1.3"/>
<line x1="459.4" y1="16" x2="459.4" y2="22.4" stroke="#121212" stroke-width="1.3"/>
<text x="459.4" y="230" font-family='"Liberation Serif", serif' font-size="9.3" font-weight="normal" text-anchor="middle" fill="#2a2a2a">30<tspan font-size="6.3" dy="-2.3">°</tspan><tspan dy="2.3">S</tspan></text>
<line x1="482.5" y1="218.4" x2="482.5" y2="215" stroke="#121212" stroke-width="1.3"/>
<line x1="482.5" y1="16" x2="482.5" y2="19.4" stroke="#121212" stroke-width="1.3"/>
<line x1="505.6" y1="218.4" x2="505.6" y2="212" stroke="#121212" stroke-width="1.3"/>
<line x1="505.6" y1="16" x2="505.6" y2="22.4" stroke="#121212" stroke-width="1.3"/>
<text x="505.6" y="230" font-family='"Liberation Serif", serif' font-size="9.3" font-weight="normal" text-anchor="middle" fill="#2a2a2a">0<tspan font-size="6.3" dy="-2.3">°</tspan><tspan dy="2.3">N</tspan></text>
<line x1="528.7" y1="218.4" x2="528.7" y2="215" stroke="#121212" stroke-width="1.3"/>
<line x1="528.7" y1="16" x2="528.7" y2="19.4" stroke="#121212" stroke-width="1.3"/>
<line x1="551.8" y1="218.4" x2="551.8" y2="212" stroke="#121212" stroke-width="1.3"/>
<line x1="551.8" y1="16" x2="551.8" y2="22.4" stroke="#121212" stroke-width="1.3"/>
<text x="551.8" y="230" font-family='"Liberation Serif", serif' font-size="9.3" font-weight="normal" text-anchor="middle" fill="#2a2a2a">30<tspan font-size="6.3" dy="-2.3">°</tspan><tspan dy="2.3">N</tspan></text>
<line x1="574.9" y1="218.4" x2="574.9" y2="215" stroke="#121212" stroke-width="1.3"/>
<line x1="574.9" y1="16" x2="574.9" y2="19.4" stroke="#121212" stroke-width="1.3"/>
<line x1="598" y1="218.4" x2="598" y2="212" stroke="#121212" stroke-width="1.3"/>
<line x1="598" y1="16" x2="598" y2="22.4" stroke="#121212" stroke-width="1.3"/>
<text x="598" y="230" font-family='"Liberation Serif", serif' font-size="9.3" font-weight="normal" text-anchor="middle" fill="#2a2a2a">60<tspan font-size="6.3" dy="-2.3">°</tspan><tspan dy="2.3">N</tspan></text>
<line x1="621.1" y1="218.4" x2="621.1" y2="215" stroke="#121212" stroke-width="1.3"/>
<line x1="621.1" y1="16" x2="621.1" y2="19.4" stroke="#121212" stroke-width="1.3"/>
<text x="644.2" y="230" font-family='"Liberation Serif", serif' font-size="9.3" font-weight="normal" text-anchor="middle" fill="#2a2a2a">90<tspan font-size="6.3" dy="-2.3">°</tspan><tspan dy="2.3">N</tspan></text>
<line x1="367" y1="203.94" x2="373.4" y2="203.94" stroke="#121212" stroke-width="1.3"/>
<line x1="644.2" y1="203.94" x2="637.8" y2="203.94" stroke="#121212" stroke-width="1.3"/>
<text x="363.8" y="206.94" font-family='"Liberation Serif", serif' font-size="9.0" font-weight="normal" text-anchor="end" fill="#2a2a2a">−6</text>
<text x="647.5" y="206.94" font-family='"Liberation Serif", serif' font-size="9.0" font-weight="normal" text-anchor="start" fill="#2a2a2a">−0.6</text>
<line x1="367" y1="175.03" x2="373.4" y2="175.03" stroke="#121212" stroke-width="1.3"/>
<line x1="644.2" y1="175.03" x2="637.8" y2="175.03" stroke="#121212" stroke-width="1.3"/>
<text x="363.8" y="178.03" font-family='"Liberation Serif", serif' font-size="9.0" font-weight="normal" text-anchor="end" fill="#2a2a2a">−4</text>
<text x="647.5" y="178.03" font-family='"Liberation Serif", serif' font-size="9.0" font-weight="normal" text-anchor="start" fill="#2a2a2a">−0.4</text>
<line x1="367" y1="146.11" x2="373.4" y2="146.11" stroke="#121212" stroke-width="1.3"/>
<line x1="644.2" y1="146.11" x2="637.8" y2="146.11" stroke="#121212" stroke-width="1.3"/>
<text x="363.8" y="149.11" font-family='"Liberation Serif", serif' font-size="9.0" font-weight="normal" text-anchor="end" fill="#2a2a2a">−2</text>
<text x="647.5" y="149.11" font-family='"Liberation Serif", serif' font-size="9.0" font-weight="normal" text-anchor="start" fill="#2a2a2a">−0.2</text>
<line x1="367" y1="117.2" x2="373.4" y2="117.2" stroke="#121212" stroke-width="1.3"/>
<line x1="644.2" y1="117.2" x2="637.8" y2="117.2" stroke="#121212" stroke-width="1.3"/>
<text x="363.8" y="120.2" font-family='"Liberation Serif", serif' font-size="9.0" font-weight="normal" text-anchor="end" fill="#2a2a2a">0</text>
<text x="647.5" y="120.2" font-family='"Liberation Serif", serif' font-size="9.0" font-weight="normal" text-anchor="start" fill="#2a2a2a">0</text>
<line x1="367" y1="88.29" x2="373.4" y2="88.29" stroke="#121212" stroke-width="1.3"/>
<line x1="644.2" y1="88.29" x2="637.8" y2="88.29" stroke="#121212" stroke-width="1.3"/>
<text x="363.8" y="91.29" font-family='"Liberation Serif", serif' font-size="9.0" font-weight="normal" text-anchor="end" fill="#2a2a2a">2</text>
<text x="647.5" y="91.29" font-family='"Liberation Serif", serif' font-size="9.0" font-weight="normal" text-anchor="start" fill="#2a2a2a">0.2</text>
<line x1="367" y1="59.37" x2="373.4" y2="59.37" stroke="#121212" stroke-width="1.3"/>
<line x1="644.2" y1="59.37" x2="637.8" y2="59.37" stroke="#121212" stroke-width="1.3"/>
<text x="363.8" y="62.37" font-family='"Liberation Serif", serif' font-size="9.0" font-weight="normal" text-anchor="end" fill="#2a2a2a">4</text>
<text x="647.5" y="62.37" font-family='"Liberation Serif", serif' font-size="9.0" font-weight="normal" text-anchor="start" fill="#2a2a2a">0.4</text>
<line x1="367" y1="30.46" x2="373.4" y2="30.46" stroke="#121212" stroke-width="1.3"/>
<line x1="644.2" y1="30.46" x2="637.8" y2="30.46" stroke="#121212" stroke-width="1.3"/>
<text x="363.8" y="33.46" font-family='"Liberation Serif", serif' font-size="9.0" font-weight="normal" text-anchor="end" fill="#2a2a2a">6</text>
<text x="647.5" y="33.46" font-family='"Liberation Serif", serif' font-size="9.0" font-weight="normal" text-anchor="start" fill="#2a2a2a">0.6</text>
<text x="505.5" y="242.2" font-family='"Liberation Serif", serif' font-size="10.6" font-weight="bold" text-anchor="middle" fill="#222">Latitude</text>
<text x="348.4" y="116.9" font-family='"Liberation Serif", serif' font-size="11" font-weight="bold" text-anchor="middle" fill="#222" transform="rotate(-90 348.4 116.9)">Climatology (PW)</text>
<text x="675.6" y="116.8" font-family='"Liberation Serif", serif' font-size="11" font-weight="bold" text-anchor="middle" fill="#222" transform="rotate(-90 675.6 116.8)">Anomaly (PW)</text>
<text x="503" y="9" font-family='"Liberation Sans", sans-serif' font-size="11" font-weight="bold" text-anchor="middle" fill="#000">Northward Heat Transport</text>
<text x="372" y="9.3" font-family='"Liberation Serif", serif' font-size="10.3" font-weight="bold" text-anchor="middle" fill="#222"><tspan font-weight="normal" font-size="11.2">(</tspan>b<tspan font-weight="normal" font-size="11.2">)</tspan></text>
<defs><pattern id="stp" patternUnits="userSpaceOnUse" x="393.15" y="292.3" width="3.45" height="4.9"><rect x="0" y="0" width="1.2" height="1.1" fill="#6e6e6e"/><rect x="1.725" y="2.45" width="1.2" height="1.1" fill="#6e6e6e"/></pattern><pattern id="stp2" patternUnits="userSpaceOnUse" x="596" y="497" width="2.7" height="1.6"><rect x="0" y="0" width="1.3" height="1.6" fill="#8c8c8c"/><rect x="1.3" y="0" width="1.4" height="1.6" fill="#c4c4c4"/></pattern></defs>
<path d="M379.4 283.01h1.1v1.1h-1.1zM382.85 283.01h1.1v1.1h-1.1zM381.12 285.31h1.1v1.1h-1.1zM384.57 285.31h1.1v1.1h-1.1zM379.4 287.63h1.1v1.1h-1.1zM382.85 287.63h1.1v1.1h-1.1zM381.12 289.98h1.1v1.1h-1.1zM393.2 292.35h1.1v1.1h-1.1zM396.65 292.35h1.1v1.1h-1.1zM400.1 292.35h1.1v1.1h-1.1zM403.55 292.35h1.1v1.1h-1.1zM407 292.35h1.1v1.1h-1.1zM410.45 292.35h1.1v1.1h-1.1zM394.92 294.74h1.1v1.1h-1.1zM398.37 294.74h1.1v1.1h-1.1zM401.82 294.74h1.1v1.1h-1.1zM405.27 294.74h1.1v1.1h-1.1zM408.72 294.74h1.1v1.1h-1.1zM412.17 294.74h1.1v1.1h-1.1zM393.2 297.2h1.1v1.1h-1.1zM396.65 297.2h1.1v1.1h-1.1zM400.1 297.2h1.1v1.1h-1.1zM403.55 297.2h1.1v1.1h-1.1zM407 297.2h1.1v1.1h-1.1zM410.45 297.2h1.1v1.1h-1.1zM394.92 299.74h1.1v1.1h-1.1zM398.37 299.74h1.1v1.1h-1.1zM401.82 299.74h1.1v1.1h-1.1zM405.27 299.74h1.1v1.1h-1.1zM408.72 299.74h1.1v1.1h-1.1zM412.17 299.74h1.1v1.1h-1.1zM407 302.37h1.1v1.1h-1.1zM410.45 302.37h1.1v1.1h-1.1zM413.9 302.37h1.1v1.1h-1.1zM417.35 302.37h1.1v1.1h-1.1zM408.72 305.08h1.1v1.1h-1.1zM412.17 305.08h1.1v1.1h-1.1zM415.62 305.08h1.1v1.1h-1.1zM419.07 305.08h1.1v1.1h-1.1zM407 307.88h1.1v1.1h-1.1zM410.45 307.88h1.1v1.1h-1.1zM413.9 307.88h1.1v1.1h-1.1zM417.35 307.88h1.1v1.1h-1.1zM408.72 310.77h1.1v1.1h-1.1zM412.17 310.77h1.1v1.1h-1.1zM415.62 310.77h1.1v1.1h-1.1zM419.07 310.77h1.1v1.1h-1.1zM413.9 313.77h1.1v1.1h-1.1zM417.35 313.77h1.1v1.1h-1.1zM420.8 313.77h1.1v1.1h-1.1zM415.62 316.86h1.1v1.1h-1.1zM419.07 316.86h1.1v1.1h-1.1zM413.9 320.05h1.1v1.1h-1.1zM417.35 320.05h1.1v1.1h-1.1zM420.8 320.05h1.1v1.1h-1.1zM415.62 323.35h1.1v1.1h-1.1zM419.07 323.35h1.1v1.1h-1.1zM413.9 326.72h1.1v1.1h-1.1zM417.35 326.72h1.1v1.1h-1.1zM420.8 326.72h1.1v1.1h-1.1zM415.62 330.16h1.1v1.1h-1.1zM419.07 330.16h1.1v1.1h-1.1zM413.9 333.66h1.1v1.1h-1.1zM417.35 333.66h1.1v1.1h-1.1zM420.8 333.66h1.1v1.1h-1.1zM415.62 337.23h1.1v1.1h-1.1zM419.07 337.23h1.1v1.1h-1.1zM407 363.5h1.1v1.1h-1.1zM410.45 363.5h1.1v1.1h-1.1zM408.72 367.42h1.1v1.1h-1.1zM412.17 367.42h1.1v1.1h-1.1zM407 371.39h1.1v1.1h-1.1zM410.45 371.39h1.1v1.1h-1.1zM408.72 375.39h1.1v1.1h-1.1zM412.17 375.39h1.1v1.1h-1.1zM407 379.39h1.1v1.1h-1.1zM410.45 379.39h1.1v1.1h-1.1zM408.72 383.39h1.1v1.1h-1.1zM412.17 383.39h1.1v1.1h-1.1zM407 387.39h1.1v1.1h-1.1zM410.45 387.39h1.1v1.1h-1.1zM408.72 391.39h1.1v1.1h-1.1zM412.17 391.39h1.1v1.1h-1.1zM407 395.39h1.1v1.1h-1.1zM410.45 395.39h1.1v1.1h-1.1zM408.72 399.39h1.1v1.1h-1.1zM412.17 399.39h1.1v1.1h-1.1zM407 403.39h1.1v1.1h-1.1zM410.45 403.39h1.1v1.1h-1.1zM408.72 407.36h1.1v1.1h-1.1zM412.17 407.36h1.1v1.1h-1.1zM407 411.28h1.1v1.1h-1.1zM410.45 411.28h1.1v1.1h-1.1zM408.72 415.17h1.1v1.1h-1.1zM412.17 415.17h1.1v1.1h-1.1zM407 419.02h1.1v1.1h-1.1zM410.45 419.02h1.1v1.1h-1.1zM408.72 422.83h1.1v1.1h-1.1zM412.17 422.83h1.1v1.1h-1.1zM407 426.6h1.1v1.1h-1.1zM410.45 426.6h1.1v1.1h-1.1zM408.72 430.34h1.1v1.1h-1.1zM412.17 430.34h1.1v1.1h-1.1zM407 434.03h1.1v1.1h-1.1zM410.45 434.03h1.1v1.1h-1.1zM408.72 437.63h1.1v1.1h-1.1zM412.17 437.63h1.1v1.1h-1.1zM407 441.16h1.1v1.1h-1.1zM410.45 441.16h1.1v1.1h-1.1zM408.72 444.6h1.1v1.1h-1.1zM412.17 444.6h1.1v1.1h-1.1zM407 447.96h1.1v1.1h-1.1zM410.45 447.96h1.1v1.1h-1.1zM408.72 451.24h1.1v1.1h-1.1zM412.17 451.24h1.1v1.1h-1.1zM407 454.44h1.1v1.1h-1.1zM410.45 454.44h1.1v1.1h-1.1zM408.72 457.57h1.1v1.1h-1.1zM412.17 457.57h1.1v1.1h-1.1zM407 460.63h1.1v1.1h-1.1zM410.45 460.63h1.1v1.1h-1.1zM408.72 463.62h1.1v1.1h-1.1zM412.17 463.62h1.1v1.1h-1.1zM407 466.54h1.1v1.1h-1.1zM410.45 466.54h1.1v1.1h-1.1zM405.27 469.41h1.1v1.1h-1.1zM408.72 469.41h1.1v1.1h-1.1zM412.17 469.41h1.1v1.1h-1.1zM403.55 472.23h1.1v1.1h-1.1zM407 472.23h1.1v1.1h-1.1zM410.45 472.23h1.1v1.1h-1.1zM401.82 474.98h1.1v1.1h-1.1zM405.27 474.98h1.1v1.1h-1.1zM408.72 474.98h1.1v1.1h-1.1zM412.17 474.98h1.1v1.1h-1.1zM400.1 477.68h1.1v1.1h-1.1zM403.55 477.68h1.1v1.1h-1.1zM407 477.68h1.1v1.1h-1.1zM410.45 477.68h1.1v1.1h-1.1zM401.82 480.33h1.1v1.1h-1.1zM405.27 480.33h1.1v1.1h-1.1zM408.72 480.33h1.1v1.1h-1.1zM412.17 480.33h1.1v1.1h-1.1zM400.1 482.92h1.1v1.1h-1.1zM403.55 482.92h1.1v1.1h-1.1zM407 482.92h1.1v1.1h-1.1zM410.45 482.92h1.1v1.1h-1.1zM401.82 485.44h1.1v1.1h-1.1zM405.27 485.44h1.1v1.1h-1.1zM408.72 485.44h1.1v1.1h-1.1zM400.1 487.9h1.1v1.1h-1.1zM403.55 487.9h1.1v1.1h-1.1zM407 487.9h1.1v1.1h-1.1zM410.45 487.9h1.1v1.1h-1.1zM394.92 490.29h1.1v1.1h-1.1zM398.37 490.29h1.1v1.1h-1.1zM401.82 490.29h1.1v1.1h-1.1zM405.27 490.29h1.1v1.1h-1.1zM408.72 490.29h1.1v1.1h-1.1zM393.2 492.61h1.1v1.1h-1.1zM396.65 492.61h1.1v1.1h-1.1zM400.1 492.61h1.1v1.1h-1.1zM403.55 492.61h1.1v1.1h-1.1zM388.02 494.88h1.1v1.1h-1.1zM391.47 494.88h1.1v1.1h-1.1zM394.92 494.88h1.1v1.1h-1.1zM398.37 494.88h1.1v1.1h-1.1zM386.3 497.08h1.1v1.1h-1.1zM389.75 497.08h1.1v1.1h-1.1zM393.2 497.08h1.1v1.1h-1.1zM381.12 499.2h1.1v1.1h-1.1zM384.57 499.2h1.1v1.1h-1.1zM388.02 499.2h1.1v1.1h-1.1zM391.47 499.2h1.1v1.1h-1.1zM379.4 501.23h1.1v1.1h-1.1zM382.85 501.23h1.1v1.1h-1.1zM386.3 501.23h1.1v1.1h-1.1zM377.67 503.18h1.1v1.1h-1.1zM381.12 503.18h1.1v1.1h-1.1zM384.57 503.18h1.1v1.1h-1.1zM379.4 505.06h1.1v1.1h-1.1zM382.85 505.06h1.1v1.1h-1.1zM377.67 506.86h1.1v1.1h-1.1zM600.2 283.01h1.1v1.1h-1.1zM603.65 283.01h1.1v1.1h-1.1zM607.1 283.01h1.1v1.1h-1.1zM610.55 283.01h1.1v1.1h-1.1zM614 283.01h1.1v1.1h-1.1zM617.45 283.01h1.1v1.1h-1.1zM620.9 283.01h1.1v1.1h-1.1zM595.02 285.31h1.1v1.1h-1.1zM598.47 285.31h1.1v1.1h-1.1zM601.92 285.31h1.1v1.1h-1.1zM605.37 285.31h1.1v1.1h-1.1zM608.82 285.31h1.1v1.1h-1.1zM612.27 285.31h1.1v1.1h-1.1zM615.72 285.31h1.1v1.1h-1.1zM619.17 285.31h1.1v1.1h-1.1zM596.75 287.63h1.1v1.1h-1.1zM600.2 287.63h1.1v1.1h-1.1zM603.65 287.63h1.1v1.1h-1.1zM607.1 287.63h1.1v1.1h-1.1zM610.55 287.63h1.1v1.1h-1.1zM614 287.63h1.1v1.1h-1.1zM617.45 287.63h1.1v1.1h-1.1zM620.9 287.63h1.1v1.1h-1.1zM598.47 289.98h1.1v1.1h-1.1zM601.92 289.98h1.1v1.1h-1.1zM605.37 289.98h1.1v1.1h-1.1zM608.82 289.98h1.1v1.1h-1.1zM612.27 289.98h1.1v1.1h-1.1zM615.72 289.98h1.1v1.1h-1.1zM619.17 289.98h1.1v1.1h-1.1zM582.95 302.37h1.1v1.1h-1.1zM586.4 302.37h1.1v1.1h-1.1zM584.67 305.08h1.1v1.1h-1.1zM588.12 305.08h1.1v1.1h-1.1zM582.95 307.88h1.1v1.1h-1.1zM586.4 307.88h1.1v1.1h-1.1zM584.67 310.77h1.1v1.1h-1.1zM588.12 310.77h1.1v1.1h-1.1zM582.95 363.5h1.1v1.1h-1.1zM586.4 363.5h1.1v1.1h-1.1zM584.67 367.42h1.1v1.1h-1.1zM588.12 367.42h1.1v1.1h-1.1zM582.95 371.39h1.1v1.1h-1.1zM586.4 371.39h1.1v1.1h-1.1zM584.67 375.39h1.1v1.1h-1.1zM588.12 375.39h1.1v1.1h-1.1zM582.95 379.39h1.1v1.1h-1.1zM586.4 379.39h1.1v1.1h-1.1zM584.67 383.39h1.1v1.1h-1.1zM588.12 383.39h1.1v1.1h-1.1zM582.95 387.39h1.1v1.1h-1.1zM586.4 387.39h1.1v1.1h-1.1zM584.67 391.39h1.1v1.1h-1.1zM588.12 391.39h1.1v1.1h-1.1zM582.95 395.39h1.1v1.1h-1.1zM586.4 395.39h1.1v1.1h-1.1zM584.67 399.39h1.1v1.1h-1.1zM588.12 399.39h1.1v1.1h-1.1zM582.95 403.39h1.1v1.1h-1.1zM586.4 403.39h1.1v1.1h-1.1zM584.67 407.36h1.1v1.1h-1.1zM588.12 407.36h1.1v1.1h-1.1zM582.95 411.28h1.1v1.1h-1.1zM586.4 411.28h1.1v1.1h-1.1zM584.67 415.17h1.1v1.1h-1.1zM588.12 415.17h1.1v1.1h-1.1zM582.95 419.02h1.1v1.1h-1.1zM586.4 419.02h1.1v1.1h-1.1zM584.67 422.83h1.1v1.1h-1.1zM588.12 422.83h1.1v1.1h-1.1zM582.95 426.6h1.1v1.1h-1.1zM586.4 426.6h1.1v1.1h-1.1zM584.67 430.34h1.1v1.1h-1.1zM588.12 430.34h1.1v1.1h-1.1zM582.95 434.03h1.1v1.1h-1.1zM586.4 434.03h1.1v1.1h-1.1zM584.67 437.63h1.1v1.1h-1.1zM588.12 437.63h1.1v1.1h-1.1zM582.95 441.16h1.1v1.1h-1.1zM586.4 441.16h1.1v1.1h-1.1zM584.67 444.6h1.1v1.1h-1.1zM588.12 444.6h1.1v1.1h-1.1zM582.95 447.96h1.1v1.1h-1.1zM586.4 447.96h1.1v1.1h-1.1zM584.67 451.24h1.1v1.1h-1.1zM588.12 451.24h1.1v1.1h-1.1zM582.95 454.44h1.1v1.1h-1.1zM586.4 454.44h1.1v1.1h-1.1zM584.67 457.57h1.1v1.1h-1.1zM588.12 457.57h1.1v1.1h-1.1zM582.95 460.63h1.1v1.1h-1.1zM586.4 460.63h1.1v1.1h-1.1zM584.67 463.62h1.1v1.1h-1.1zM588.12 463.62h1.1v1.1h-1.1zM589.85 466.54h1.1v1.1h-1.1zM593.3 466.54h1.1v1.1h-1.1zM588.12 469.41h1.1v1.1h-1.1zM591.57 469.41h1.1v1.1h-1.1zM595.02 469.41h1.1v1.1h-1.1zM589.85 472.23h1.1v1.1h-1.1zM593.3 472.23h1.1v1.1h-1.1zM588.12 474.98h1.1v1.1h-1.1zM591.57 474.98h1.1v1.1h-1.1zM595.02 474.98h1.1v1.1h-1.1zM589.85 477.68h1.1v1.1h-1.1zM593.3 477.68h1.1v1.1h-1.1zM588.12 480.33h1.1v1.1h-1.1zM591.57 480.33h1.1v1.1h-1.1zM595.02 480.33h1.1v1.1h-1.1zM589.85 482.92h1.1v1.1h-1.1zM593.3 482.92h1.1v1.1h-1.1zM588.12 485.44h1.1v1.1h-1.1zM591.57 485.44h1.1v1.1h-1.1zM595.02 485.44h1.1v1.1h-1.1zM619.17 474.98h1.1v1.1h-1.1zM617.45 477.68h1.1v1.1h-1.1zM620.9 477.68h1.1v1.1h-1.1zM615.72 480.33h1.1v1.1h-1.1zM619.17 480.33h1.1v1.1h-1.1zM614 482.92h1.1v1.1h-1.1zM617.45 482.92h1.1v1.1h-1.1zM620.9 482.92h1.1v1.1h-1.1zM612.27 485.44h1.1v1.1h-1.1zM615.72 485.44h1.1v1.1h-1.1zM619.17 485.44h1.1v1.1h-1.1zM610.55 487.9h1.1v1.1h-1.1zM614 487.9h1.1v1.1h-1.1zM617.45 487.9h1.1v1.1h-1.1zM620.9 487.9h1.1v1.1h-1.1zM612.27 490.29h1.1v1.1h-1.1zM615.72 490.29h1.1v1.1h-1.1zM619.17 490.29h1.1v1.1h-1.1zM610.55 492.61h1.1v1.1h-1.1zM614 492.61h1.1v1.1h-1.1zM617.45 492.61h1.1v1.1h-1.1zM620.9 492.61h1.1v1.1h-1.1zM612.27 494.88h1.1v1.1h-1.1zM615.72 494.88h1.1v1.1h-1.1zM619.17 494.88h1.1v1.1h-1.1zM610.55 497.08h1.1v1.1h-1.1zM614 497.08h1.1v1.1h-1.1zM617.45 497.08h1.1v1.1h-1.1zM620.9 497.08h1.1v1.1h-1.1zM612.27 499.2h1.1v1.1h-1.1zM615.72 499.2h1.1v1.1h-1.1zM619.17 499.2h1.1v1.1h-1.1z" fill="#707070"/>
<rect x="595.8" y="497.3" width="21" height="10.4" fill="url(#stp2)" opacity="0.95"/>
<rect x="427.5" y="503.2" width="53" height="4.4" fill="url(#stp2)" opacity="0.55"/>
<rect x="287.3" y="276.7" width="18.2" height="231.5" fill="#36459c"/>
<rect x="287.3" y="276.7" width="18.2" height="220.98" fill="#3e5aa8"/>
<rect x="287.3" y="276.7" width="18.2" height="210.45" fill="#4673b5"/>
<rect x="287.3" y="276.7" width="18.2" height="199.93" fill="#5a8bc2"/>
<rect x="287.3" y="276.7" width="18.2" height="189.41" fill="#6ba5cd"/>
<rect x="287.3" y="276.7" width="18.2" height="178.89" fill="#7db7d8"/>
<rect x="287.3" y="276.7" width="18.2" height="168.36" fill="#90c5df"/>
<rect x="287.3" y="276.7" width="18.2" height="157.84" fill="#a7d4e6"/>
<rect x="287.3" y="276.7" width="18.2" height="147.32" fill="#bbe0ed"/>
<rect x="287.3" y="276.7" width="18.2" height="136.8" fill="#cce9f2"/>
<rect x="287.3" y="276.7" width="18.2" height="126.27" fill="#dff2f7"/>
<rect x="287.3" y="276.7" width="18.2" height="115.75" fill="#ffffbf"/>
<rect x="287.3" y="276.7" width="18.2" height="105.23" fill="#fee99d"/>
<rect x="287.3" y="276.7" width="18.2" height="94.7" fill="#fed689"/>
<rect x="287.3" y="276.7" width="18.2" height="84.18" fill="#fdc275"/>
<rect x="287.3" y="276.7" width="18.2" height="73.66" fill="#fcae62"/>
<rect x="287.3" y="276.7" width="18.2" height="63.14" fill="#fa9a57"/>
<rect x="287.3" y="276.7" width="18.2" height="52.61" fill="#f7854e"/>
<rect x="287.3" y="276.7" width="18.2" height="42.09" fill="#f46d43"/>
<rect x="287.3" y="276.7" width="18.2" height="31.57" fill="#e8533a"/>
<rect x="287.3" y="276.7" width="18.2" height="21.05" fill="#dc352a"/>
<rect x="287.3" y="276.7" width="18.2" height="10.52" fill="#c61f27"/>
<rect x="287.3" y="276.7" width="18.2" height="231.5" fill="none" stroke="#121212" stroke-width="1.3"/>
<line x1="287.3" y1="497.68" x2="289.5" y2="497.68" stroke="#121212" stroke-width="1"/>
<line x1="305.5" y1="497.68" x2="303.3" y2="497.68" stroke="#121212" stroke-width="1"/>
<text x="308.5" y="500.38" font-family='"Liberation Serif", serif' font-size="9.0" font-weight="normal" text-anchor="start" fill="#333">−100</text>
<line x1="287.3" y1="476.63" x2="289.5" y2="476.63" stroke="#121212" stroke-width="1"/>
<line x1="305.5" y1="476.63" x2="303.3" y2="476.63" stroke="#121212" stroke-width="1"/>
<text x="308.5" y="479.33" font-family='"Liberation Serif", serif' font-size="9.0" font-weight="normal" text-anchor="start" fill="#333">−80</text>
<line x1="287.3" y1="455.59" x2="289.5" y2="455.59" stroke="#121212" stroke-width="1"/>
<line x1="305.5" y1="455.59" x2="303.3" y2="455.59" stroke="#121212" stroke-width="1"/>
<text x="308.5" y="458.29" font-family='"Liberation Serif", serif' font-size="9.0" font-weight="normal" text-anchor="start" fill="#333">−60</text>
<line x1="287.3" y1="434.54" x2="289.5" y2="434.54" stroke="#121212" stroke-width="1"/>
<line x1="305.5" y1="434.54" x2="303.3" y2="434.54" stroke="#121212" stroke-width="1"/>
<text x="308.5" y="437.24" font-family='"Liberation Serif", serif' font-size="9.0" font-weight="normal" text-anchor="start" fill="#333">−40</text>
<line x1="287.3" y1="413.5" x2="289.5" y2="413.5" stroke="#121212" stroke-width="1"/>
<line x1="305.5" y1="413.5" x2="303.3" y2="413.5" stroke="#121212" stroke-width="1"/>
<text x="308.5" y="416.2" font-family='"Liberation Serif", serif' font-size="9.0" font-weight="normal" text-anchor="start" fill="#333">−20</text>
<line x1="287.3" y1="392.45" x2="289.5" y2="392.45" stroke="#121212" stroke-width="1"/>
<line x1="305.5" y1="392.45" x2="303.3" y2="392.45" stroke="#121212" stroke-width="1"/>
<text x="308.5" y="395.15" font-family='"Liberation Serif", serif' font-size="9.0" font-weight="normal" text-anchor="start" fill="#333">0</text>
<line x1="287.3" y1="371.4" x2="289.5" y2="371.4" stroke="#121212" stroke-width="1"/>
<line x1="305.5" y1="371.4" x2="303.3" y2="371.4" stroke="#121212" stroke-width="1"/>
<text x="308.5" y="374.1" font-family='"Liberation Serif", serif' font-size="9.0" font-weight="normal" text-anchor="start" fill="#333">20</text>
<line x1="287.3" y1="350.36" x2="289.5" y2="350.36" stroke="#121212" stroke-width="1"/>
<line x1="305.5" y1="350.36" x2="303.3" y2="350.36" stroke="#121212" stroke-width="1"/>
<text x="308.5" y="353.06" font-family='"Liberation Serif", serif' font-size="9.0" font-weight="normal" text-anchor="start" fill="#333">40</text>
<line x1="287.3" y1="329.31" x2="289.5" y2="329.31" stroke="#121212" stroke-width="1"/>
<line x1="305.5" y1="329.31" x2="303.3" y2="329.31" stroke="#121212" stroke-width="1"/>
<text x="308.5" y="332.01" font-family='"Liberation Serif", serif' font-size="9.0" font-weight="normal" text-anchor="start" fill="#333">60</text>
<line x1="287.3" y1="308.27" x2="289.5" y2="308.27" stroke="#121212" stroke-width="1"/>
<line x1="305.5" y1="308.27" x2="303.3" y2="308.27" stroke="#121212" stroke-width="1"/>
<text x="308.5" y="310.97" font-family='"Liberation Serif", serif' font-size="9.0" font-weight="normal" text-anchor="start" fill="#333">80</text>
<line x1="287.3" y1="287.22" x2="289.5" y2="287.22" stroke="#121212" stroke-width="1"/>
<line x1="305.5" y1="287.22" x2="303.3" y2="287.22" stroke="#121212" stroke-width="1"/>
<text x="308.5" y="289.92" font-family='"Liberation Serif", serif' font-size="9.0" font-weight="normal" text-anchor="start" fill="#333">100</text>
<rect x="33.6" y="276.7" width="244.9" height="231.5" fill="none" stroke="#121212" stroke-width="1.3"/>
<line x1="51.09" y1="508.2" x2="51.09" y2="504.9" stroke="#121212" stroke-width="1.3"/>
<line x1="51.09" y1="276.7" x2="51.09" y2="280" stroke="#121212" stroke-width="1.3"/>
<text x="51.09" y="519.2" font-family='"Liberation Serif", serif' font-size="9.4" font-weight="bold" text-anchor="middle" fill="#222">30<tspan font-size="6.3" dy="-2.3">°</tspan><tspan dy="2.3">S</tspan></text>
<line x1="86.08" y1="508.2" x2="86.08" y2="504.9" stroke="#121212" stroke-width="1.3"/>
<line x1="86.08" y1="276.7" x2="86.08" y2="280" stroke="#121212" stroke-width="1.3"/>
<text x="86.08" y="519.2" font-family='"Liberation Serif", serif' font-size="9.4" font-weight="bold" text-anchor="middle" fill="#222">20<tspan font-size="6.3" dy="-2.3">°</tspan><tspan dy="2.3">S</tspan></text>
<line x1="121.06" y1="508.2" x2="121.06" y2="504.9" stroke="#121212" stroke-width="1.3"/>
<line x1="121.06" y1="276.7" x2="121.06" y2="280" stroke="#121212" stroke-width="1.3"/>
<text x="121.06" y="519.2" font-family='"Liberation Serif", serif' font-size="9.4" font-weight="bold" text-anchor="middle" fill="#222">10<tspan font-size="6.3" dy="-2.3">°</tspan><tspan dy="2.3">S</tspan></text>
<line x1="156.05" y1="508.2" x2="156.05" y2="504.9" stroke="#121212" stroke-width="1.3"/>
<line x1="156.05" y1="276.7" x2="156.05" y2="280" stroke="#121212" stroke-width="1.3"/>
<text x="156.05" y="519.2" font-family='"Liberation Serif", serif' font-size="9.4" font-weight="bold" text-anchor="middle" fill="#222">0<tspan font-size="6.3" dy="-2.3">°</tspan><tspan dy="2.3">S</tspan></text>
<line x1="191.04" y1="508.2" x2="191.04" y2="504.9" stroke="#121212" stroke-width="1.3"/>
<line x1="191.04" y1="276.7" x2="191.04" y2="280" stroke="#121212" stroke-width="1.3"/>
<text x="191.04" y="519.2" font-family='"Liberation Serif", serif' font-size="9.4" font-weight="bold" text-anchor="middle" fill="#222">10<tspan font-size="6.3" dy="-2.3">°</tspan><tspan dy="2.3">N</tspan></text>
<line x1="226.02" y1="508.2" x2="226.02" y2="504.9" stroke="#121212" stroke-width="1.3"/>
<line x1="226.02" y1="276.7" x2="226.02" y2="280" stroke="#121212" stroke-width="1.3"/>
<text x="226.02" y="519.2" font-family='"Liberation Serif", serif' font-size="9.4" font-weight="bold" text-anchor="middle" fill="#222">20<tspan font-size="6.3" dy="-2.3">°</tspan><tspan dy="2.3">N</tspan></text>
<line x1="261.01" y1="508.2" x2="261.01" y2="504.9" stroke="#121212" stroke-width="1.3"/>
<line x1="261.01" y1="276.7" x2="261.01" y2="280" stroke="#121212" stroke-width="1.3"/>
<text x="261.01" y="519.2" font-family='"Liberation Serif", serif' font-size="9.4" font-weight="bold" text-anchor="middle" fill="#222">30<tspan font-size="6.3" dy="-2.3">°</tspan><tspan dy="2.3">N</tspan></text>
<text x="30.6" y="279.3" font-family='"Liberation Serif", serif' font-size="9.0" font-weight="normal" text-anchor="end" fill="#333">100</text>
<line x1="33.6" y1="302.42" x2="36.9" y2="302.42" stroke="#121212" stroke-width="1.3"/>
<line x1="278.5" y1="302.42" x2="275.2" y2="302.42" stroke="#121212" stroke-width="1.3"/>
<text x="30.6" y="305.02" font-family='"Liberation Serif", serif' font-size="9.0" font-weight="normal" text-anchor="end" fill="#333">200</text>
<line x1="33.6" y1="328.14" x2="36.9" y2="328.14" stroke="#121212" stroke-width="1.3"/>
<line x1="278.5" y1="328.14" x2="275.2" y2="328.14" stroke="#121212" stroke-width="1.3"/>
<text x="30.6" y="330.74" font-family='"Liberation Serif", serif' font-size="9.0" font-weight="normal" text-anchor="end" fill="#333">300</text>
<line x1="33.6" y1="353.87" x2="36.9" y2="353.87" stroke="#121212" stroke-width="1.3"/>
<line x1="278.5" y1="353.87" x2="275.2" y2="353.87" stroke="#121212" stroke-width="1.3"/>
<text x="30.6" y="356.47" font-family='"Liberation Serif", serif' font-size="9.0" font-weight="normal" text-anchor="end" fill="#333">400</text>
<line x1="33.6" y1="379.59" x2="36.9" y2="379.59" stroke="#121212" stroke-width="1.3"/>
<line x1="278.5" y1="379.59" x2="275.2" y2="379.59" stroke="#121212" stroke-width="1.3"/>
<text x="30.6" y="382.19" font-family='"Liberation Serif", serif' font-size="9.0" font-weight="normal" text-anchor="end" fill="#333">500</text>
<line x1="33.6" y1="405.31" x2="36.9" y2="405.31" stroke="#121212" stroke-width="1.3"/>
<line x1="278.5" y1="405.31" x2="275.2" y2="405.31" stroke="#121212" stroke-width="1.3"/>
<text x="30.6" y="407.91" font-family='"Liberation Serif", serif' font-size="9.0" font-weight="normal" text-anchor="end" fill="#333">600</text>
<line x1="33.6" y1="431.03" x2="36.9" y2="431.03" stroke="#121212" stroke-width="1.3"/>
<line x1="278.5" y1="431.03" x2="275.2" y2="431.03" stroke="#121212" stroke-width="1.3"/>
<text x="30.6" y="433.63" font-family='"Liberation Serif", serif' font-size="9.0" font-weight="normal" text-anchor="end" fill="#333">700</text>
<line x1="33.6" y1="456.76" x2="36.9" y2="456.76" stroke="#121212" stroke-width="1.3"/>
<line x1="278.5" y1="456.76" x2="275.2" y2="456.76" stroke="#121212" stroke-width="1.3"/>
<text x="30.6" y="459.36" font-family='"Liberation Serif", serif' font-size="9.0" font-weight="normal" text-anchor="end" fill="#333">800</text>
<line x1="33.6" y1="482.48" x2="36.9" y2="482.48" stroke="#121212" stroke-width="1.3"/>
<line x1="278.5" y1="482.48" x2="275.2" y2="482.48" stroke="#121212" stroke-width="1.3"/>
<text x="30.6" y="485.08" font-family='"Liberation Serif", serif' font-size="9.0" font-weight="normal" text-anchor="end" fill="#333">900</text>
<text x="30.6" y="510.8" font-family='"Liberation Serif", serif' font-size="9.0" font-weight="normal" text-anchor="end" fill="#333">1000</text>
<text x="53.1" y="270.4" font-family='"Liberation Sans", sans-serif' font-size="11" font-weight="bold" text-anchor="start" fill="#000">Climatological Hadley Circulation (Control)</text>
<text x="37.4" y="270" font-family='"Liberation Serif", serif' font-size="10.0" font-weight="bold" text-anchor="middle" fill="#222"><tspan font-weight="normal" font-size="11.2">(</tspan>c<tspan font-weight="normal" font-size="11.2">)</tspan></text>
<text x="8.8" y="392.4" font-family='"Liberation Serif", serif' font-size="11.2" font-weight="bold" text-anchor="middle" fill="#222" transform="rotate(-90 8.8 392.4)">Pressure (hPa)</text>
<rect x="631.7" y="276.7" width="18" height="231.5" fill="#36459c"/>
<rect x="631.7" y="276.7" width="18" height="220.98" fill="#3e5aa8"/>
<rect x="631.7" y="276.7" width="18" height="210.45" fill="#4673b5"/>
<rect x="631.7" y="276.7" width="18" height="199.93" fill="#5a8bc2"/>
<rect x="631.7" y="276.7" width="18" height="189.41" fill="#6ba5cd"/>
<rect x="631.7" y="276.7" width="18" height="178.89" fill="#7db7d8"/>
<rect x="631.7" y="276.7" width="18" height="168.36" fill="#90c5df"/>
<rect x="631.7" y="276.7" width="18" height="157.84" fill="#a7d4e6"/>
<rect x="631.7" y="276.7" width="18" height="147.32" fill="#bbe0ed"/>
<rect x="631.7" y="276.7" width="18" height="136.8" fill="#cce9f2"/>
<rect x="631.7" y="276.7" width="18" height="126.27" fill="#dff2f7"/>
<rect x="631.7" y="276.7" width="18" height="115.75" fill="#ffffbf"/>
<rect x="631.7" y="276.7" width="18" height="105.23" fill="#fee99d"/>
<rect x="631.7" y="276.7" width="18" height="94.7" fill="#fed689"/>
<rect x="631.7" y="276.7" width="18" height="84.18" fill="#fdc275"/>
<rect x="631.7" y="276.7" width="18" height="73.66" fill="#fcae62"/>
<rect x="631.7" y="276.7" width="18" height="63.14" fill="#fa9a57"/>
<rect x="631.7" y="276.7" width="18" height="52.61" fill="#f7854e"/>
<rect x="631.7" y="276.7" width="18" height="42.09" fill="#f46d43"/>
<rect x="631.7" y="276.7" width="18" height="31.57" fill="#e8533a"/>
<rect x="631.7" y="276.7" width="18" height="21.05" fill="#dc352a"/>
<rect x="631.7" y="276.7" width="18" height="10.52" fill="#c61f27"/>
<rect x="631.7" y="276.7" width="18" height="231.5" fill="none" stroke="#121212" stroke-width="1.3"/>
<line x1="631.7" y1="497.68" x2="633.9" y2="497.68" stroke="#121212" stroke-width="1"/>
<line x1="649.7" y1="497.68" x2="647.5" y2="497.68" stroke="#121212" stroke-width="1"/>
<text x="652.7" y="500.38" font-family='"Liberation Serif", serif' font-size="9.0" font-weight="normal" text-anchor="start" fill="#333">−35</text>
<line x1="631.7" y1="476.63" x2="633.9" y2="476.63" stroke="#121212" stroke-width="1"/>
<line x1="649.7" y1="476.63" x2="647.5" y2="476.63" stroke="#121212" stroke-width="1"/>
<text x="652.7" y="479.33" font-family='"Liberation Serif", serif' font-size="9.0" font-weight="normal" text-anchor="start" fill="#333">−28</text>
<line x1="631.7" y1="455.59" x2="633.9" y2="455.59" stroke="#121212" stroke-width="1"/>
<line x1="649.7" y1="455.59" x2="647.5" y2="455.59" stroke="#121212" stroke-width="1"/>
<text x="652.7" y="458.29" font-family='"Liberation Serif", serif' font-size="9.0" font-weight="normal" text-anchor="start" fill="#333">−21</text>
<line x1="631.7" y1="434.54" x2="633.9" y2="434.54" stroke="#121212" stroke-width="1"/>
<line x1="649.7" y1="434.54" x2="647.5" y2="434.54" stroke="#121212" stroke-width="1"/>
<text x="652.7" y="437.24" font-family='"Liberation Serif", serif' font-size="9.0" font-weight="normal" text-anchor="start" fill="#333">−14</text>
<line x1="631.7" y1="413.5" x2="633.9" y2="413.5" stroke="#121212" stroke-width="1"/>
<line x1="649.7" y1="413.5" x2="647.5" y2="413.5" stroke="#121212" stroke-width="1"/>
<text x="652.7" y="416.2" font-family='"Liberation Serif", serif' font-size="9.0" font-weight="normal" text-anchor="start" fill="#333">−7</text>
<line x1="631.7" y1="392.45" x2="633.9" y2="392.45" stroke="#121212" stroke-width="1"/>
<line x1="649.7" y1="392.45" x2="647.5" y2="392.45" stroke="#121212" stroke-width="1"/>
<text x="652.7" y="395.15" font-family='"Liberation Serif", serif' font-size="9.0" font-weight="normal" text-anchor="start" fill="#333">0</text>
<line x1="631.7" y1="371.4" x2="633.9" y2="371.4" stroke="#121212" stroke-width="1"/>
<line x1="649.7" y1="371.4" x2="647.5" y2="371.4" stroke="#121212" stroke-width="1"/>
<text x="652.7" y="374.1" font-family='"Liberation Serif", serif' font-size="9.0" font-weight="normal" text-anchor="start" fill="#333">7</text>
<line x1="631.7" y1="350.36" x2="633.9" y2="350.36" stroke="#121212" stroke-width="1"/>
<line x1="649.7" y1="350.36" x2="647.5" y2="350.36" stroke="#121212" stroke-width="1"/>
<text x="652.7" y="353.06" font-family='"Liberation Serif", serif' font-size="9.0" font-weight="normal" text-anchor="start" fill="#333">14</text>
<line x1="631.7" y1="329.31" x2="633.9" y2="329.31" stroke="#121212" stroke-width="1"/>
<line x1="649.7" y1="329.31" x2="647.5" y2="329.31" stroke="#121212" stroke-width="1"/>
<text x="652.7" y="332.01" font-family='"Liberation Serif", serif' font-size="9.0" font-weight="normal" text-anchor="start" fill="#333">21</text>
<line x1="631.7" y1="308.27" x2="633.9" y2="308.27" stroke="#121212" stroke-width="1"/>
<line x1="649.7" y1="308.27" x2="647.5" y2="308.27" stroke="#121212" stroke-width="1"/>
<text x="652.7" y="310.97" font-family='"Liberation Serif", serif' font-size="9.0" font-weight="normal" text-anchor="start" fill="#333">28</text>
<line x1="631.7" y1="287.22" x2="633.9" y2="287.22" stroke="#121212" stroke-width="1"/>
<line x1="649.7" y1="287.22" x2="647.5" y2="287.22" stroke="#121212" stroke-width="1"/>
<text x="652.7" y="289.92" font-family='"Liberation Serif", serif' font-size="9.0" font-weight="normal" text-anchor="start" fill="#333">35</text>
<rect x="377.9" y="276.7" width="245" height="231.5" fill="none" stroke="#121212" stroke-width="1.3"/>
<line x1="395.4" y1="508.2" x2="395.4" y2="504.9" stroke="#121212" stroke-width="1.3"/>
<line x1="395.4" y1="276.7" x2="395.4" y2="280" stroke="#121212" stroke-width="1.3"/>
<text x="395.4" y="519.2" font-family='"Liberation Serif", serif' font-size="9.4" font-weight="bold" text-anchor="middle" fill="#222">30<tspan font-size="6.3" dy="-2.3">°</tspan><tspan dy="2.3">S</tspan></text>
<line x1="430.4" y1="508.2" x2="430.4" y2="504.9" stroke="#121212" stroke-width="1.3"/>
<line x1="430.4" y1="276.7" x2="430.4" y2="280" stroke="#121212" stroke-width="1.3"/>
<text x="430.4" y="519.2" font-family='"Liberation Serif", serif' font-size="9.4" font-weight="bold" text-anchor="middle" fill="#222">20<tspan font-size="6.3" dy="-2.3">°</tspan><tspan dy="2.3">S</tspan></text>
<line x1="465.4" y1="508.2" x2="465.4" y2="504.9" stroke="#121212" stroke-width="1.3"/>
<line x1="465.4" y1="276.7" x2="465.4" y2="280" stroke="#121212" stroke-width="1.3"/>
<text x="465.4" y="519.2" font-family='"Liberation Serif", serif' font-size="9.4" font-weight="bold" text-anchor="middle" fill="#222">10<tspan font-size="6.3" dy="-2.3">°</tspan><tspan dy="2.3">S</tspan></text>
<line x1="500.4" y1="508.2" x2="500.4" y2="504.9" stroke="#121212" stroke-width="1.3"/>
<line x1="500.4" y1="276.7" x2="500.4" y2="280" stroke="#121212" stroke-width="1.3"/>
<text x="500.4" y="519.2" font-family='"Liberation Serif", serif' font-size="9.4" font-weight="bold" text-anchor="middle" fill="#222">0<tspan font-size="6.3" dy="-2.3">°</tspan><tspan dy="2.3">S</tspan></text>
<line x1="535.4" y1="508.2" x2="535.4" y2="504.9" stroke="#121212" stroke-width="1.3"/>
<line x1="535.4" y1="276.7" x2="535.4" y2="280" stroke="#121212" stroke-width="1.3"/>
<text x="535.4" y="519.2" font-family='"Liberation Serif", serif' font-size="9.4" font-weight="bold" text-anchor="middle" fill="#222">10<tspan font-size="6.3" dy="-2.3">°</tspan><tspan dy="2.3">N</tspan></text>
<line x1="570.4" y1="508.2" x2="570.4" y2="504.9" stroke="#121212" stroke-width="1.3"/>
<line x1="570.4" y1="276.7" x2="570.4" y2="280" stroke="#121212" stroke-width="1.3"/>
<text x="570.4" y="519.2" font-family='"Liberation Serif", serif' font-size="9.4" font-weight="bold" text-anchor="middle" fill="#222">20<tspan font-size="6.3" dy="-2.3">°</tspan><tspan dy="2.3">N</tspan></text>
<line x1="605.4" y1="508.2" x2="605.4" y2="504.9" stroke="#121212" stroke-width="1.3"/>
<line x1="605.4" y1="276.7" x2="605.4" y2="280" stroke="#121212" stroke-width="1.3"/>
<text x="605.4" y="519.2" font-family='"Liberation Serif", serif' font-size="9.4" font-weight="bold" text-anchor="middle" fill="#222">30<tspan font-size="6.3" dy="-2.3">°</tspan><tspan dy="2.3">N</tspan></text>
<text x="374.9" y="279.3" font-family='"Liberation Serif", serif' font-size="9.0" font-weight="normal" text-anchor="end" fill="#333">100</text>
<line x1="377.9" y1="302.42" x2="381.2" y2="302.42" stroke="#121212" stroke-width="1.3"/>
<line x1="622.9" y1="302.42" x2="619.6" y2="302.42" stroke="#121212" stroke-width="1.3"/>
<text x="374.9" y="305.02" font-family='"Liberation Serif", serif' font-size="9.0" font-weight="normal" text-anchor="end" fill="#333">200</text>
<line x1="377.9" y1="328.14" x2="381.2" y2="328.14" stroke="#121212" stroke-width="1.3"/>
<line x1="622.9" y1="328.14" x2="619.6" y2="328.14" stroke="#121212" stroke-width="1.3"/>
<text x="374.9" y="330.74" font-family='"Liberation Serif", serif' font-size="9.0" font-weight="normal" text-anchor="end" fill="#333">300</text>
<line x1="377.9" y1="353.87" x2="381.2" y2="353.87" stroke="#121212" stroke-width="1.3"/>
<line x1="622.9" y1="353.87" x2="619.6" y2="353.87" stroke="#121212" stroke-width="1.3"/>
<text x="374.9" y="356.47" font-family='"Liberation Serif", serif' font-size="9.0" font-weight="normal" text-anchor="end" fill="#333">400</text>
<line x1="377.9" y1="379.59" x2="381.2" y2="379.59" stroke="#121212" stroke-width="1.3"/>
<line x1="622.9" y1="379.59" x2="619.6" y2="379.59" stroke="#121212" stroke-width="1.3"/>
<text x="374.9" y="382.19" font-family='"Liberation Serif", serif' font-size="9.0" font-weight="normal" text-anchor="end" fill="#333">500</text>
<line x1="377.9" y1="405.31" x2="381.2" y2="405.31" stroke="#121212" stroke-width="1.3"/>
<line x1="622.9" y1="405.31" x2="619.6" y2="405.31" stroke="#121212" stroke-width="1.3"/>
<text x="374.9" y="407.91" font-family='"Liberation Serif", serif' font-size="9.0" font-weight="normal" text-anchor="end" fill="#333">600</text>
<line x1="377.9" y1="431.03" x2="381.2" y2="431.03" stroke="#121212" stroke-width="1.3"/>
<line x1="622.9" y1="431.03" x2="619.6" y2="431.03" stroke="#121212" stroke-width="1.3"/>
<text x="374.9" y="433.63" font-family='"Liberation Serif", serif' font-size="9.0" font-weight="normal" text-anchor="end" fill="#333">700</text>
<line x1="377.9" y1="456.76" x2="381.2" y2="456.76" stroke="#121212" stroke-width="1.3"/>
<line x1="622.9" y1="456.76" x2="619.6" y2="456.76" stroke="#121212" stroke-width="1.3"/>
<text x="374.9" y="459.36" font-family='"Liberation Serif", serif' font-size="9.0" font-weight="normal" text-anchor="end" fill="#333">800</text>
<line x1="377.9" y1="482.48" x2="381.2" y2="482.48" stroke="#121212" stroke-width="1.3"/>
<line x1="622.9" y1="482.48" x2="619.6" y2="482.48" stroke="#121212" stroke-width="1.3"/>
<text x="374.9" y="485.08" font-family='"Liberation Serif", serif' font-size="9.0" font-weight="normal" text-anchor="end" fill="#333">900</text>
<text x="374.9" y="510.8" font-family='"Liberation Serif", serif' font-size="9.0" font-weight="normal" text-anchor="end" fill="#333">1000</text>
<text x="506" y="258.3" font-family='"Liberation Sans", sans-serif' font-size="11" font-weight="bold" text-anchor="middle" fill="#000">Anomalous Hadley Circulation</text>
<text x="506" y="272" font-family='"Liberation Sans", sans-serif' font-size="11" font-weight="bold" text-anchor="middle" fill="#000">(Hosing&#8201;–&#8201;Control)</text>
<text x="382.3" y="269.8" font-family='"Liberation Serif", serif' font-size="10.0" font-weight="bold" text-anchor="middle" fill="#222"><tspan font-weight="normal" font-size="11.2">(</tspan>d<tspan font-weight="normal" font-size="11.2">)</tspan></text>
<text x="352.2" y="392.4" font-family='"Liberation Serif", serif' font-size="11.2" font-weight="bold" text-anchor="middle" fill="#222" transform="rotate(-90 352.2 392.4)">Pressure (hPa)</text>
<text x="300.8" y="518" font-family='"Liberation Serif", serif' font-size="9" fill="#222"><tspan font-size="6.5" font-weight="bold" dy="-1.6">•</tspan><tspan dy="1.6">10</tspan><tspan font-size="6.3" dy="-4">9</tspan><tspan dy="4" font-weight="bold">kg s</tspan><tspan font-size="6.3" dy="-4">−1</tspan></text>
<text x="645.4" y="518" font-family='"Liberation Serif", serif' font-size="9" fill="#222"><tspan font-size="6.5" font-weight="bold" dy="-1.6">•</tspan><tspan dy="1.6">10</tspan><tspan font-size="6.3" dy="-4">8</tspan><tspan dy="4" font-weight="bold">kg s</tspan><tspan font-size="6.3" dy="-4">−1</tspan></text>
</svg>
</body></html>
